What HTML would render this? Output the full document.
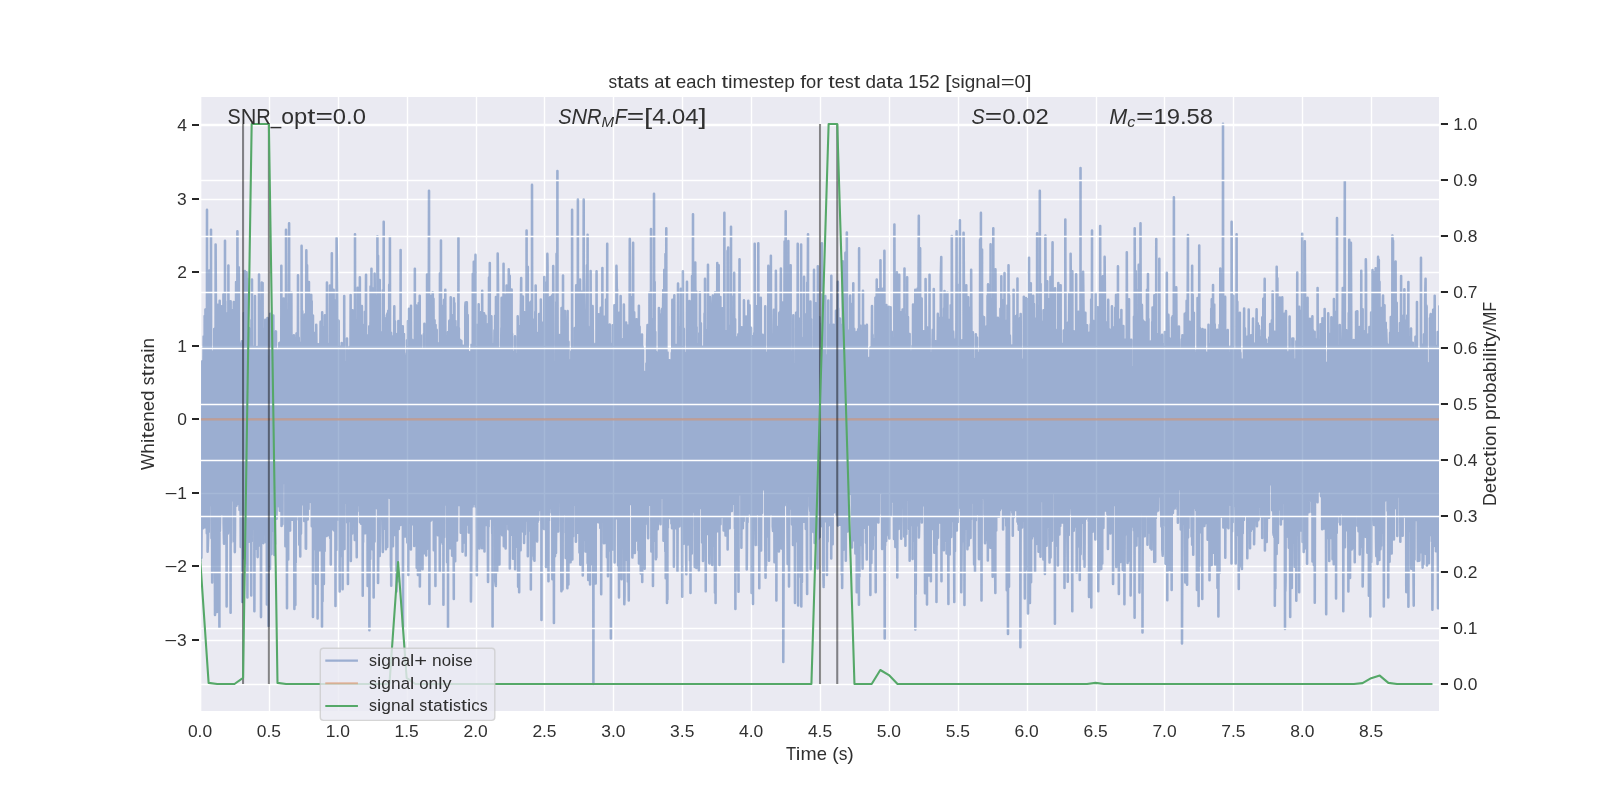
<!DOCTYPE html><html><head><meta charset="utf-8"><title>stats at each timestep</title><style>html,body{margin:0;padding:0;background:#fff;overflow:hidden}svg{display:block;will-change:transform}text{font-family:"Liberation Sans",sans-serif;fill:#303030}</style></head><body>
<svg width="1600" height="800" viewBox="0 0 1600 800">
<rect x="0" y="0" width="1600" height="800" fill="#fff"/>
<defs><clipPath id="c"><rect x="201" y="96" width="1238" height="616"/></clipPath></defs>
<rect x="201.2" y="97" width="1237.8" height="614" fill="#EAEAF2"/>
<path d="M200.5 96.0V712.0M269.5 96.0V712.0M338.5 96.0V712.0M407.5 96.0V712.0M476.5 96.0V712.0M544.5 96.0V712.0M613.5 96.0V712.0M682.5 96.0V712.0M751.5 96.0V712.0M820.5 96.0V712.0M889.5 96.0V712.0M958.5 96.0V712.0M1027.5 96.0V712.0M1096.5 96.0V712.0M1164.5 96.0V712.0M1233.5 96.0V712.0M1302.5 96.0V712.0M1371.5 96.0V712.0M200.0 640.5H1440.0M200.0 566.5H1440.0M200.0 493.5H1440.0M200.0 419.5H1440.0M200.0 346.5H1440.0M200.0 272.5H1440.0M200.0 199.5H1440.0M200.0 125.5H1440.0" stroke="#fff" stroke-width="1.389" fill="none"/>
<g clip-path="url(#c)"><path d="M200.00 428.2l.17-49.8 .03 182.5 .51-71.7 .13-93.2 .2-11.6 .34 173.3 .37-51.9 .23-144.3 .24 21.6 .1 143.2 .37-27 .07-119.4 .37 148.4 .23-152.7 .34-39.1 .17 134.4 .47-96.2 .07 151.4 .27-210 .2 183.8 .3 27.3 .27-217.6 .07 69.3 .1 98.9 .74 3.4 .06-94.2 .41 146.2 .17-323.3 .1 161.9 .13 102.5 .27-127.5 .1 205 .61-18.4 .23-166.3 .1-36 .17 201 .64-261.6 .14 227.4 .13-4 .1-147 .64 139.7 .14-121 .47 139.5 .03-275.3 .13 155.1 .31 124.7 .1 28.7 .33-183.6 .21-3.2 .1 230.9 .6-58.1 .1-162.7 .37 40.6 .04 145 .33-17.5 .21-151.8 .33 78 .07-126.8 .6 36.3 .07 205.3 .1 44.2 .1-277.6 .47 189.2 .04-282 .44 93.9 .2 173.7 .64-172.5 .1 272.4 .37-126.1 .13-152 .07 205 .23-234.2 .27 212.9 .14-162 .4-32.1 .14 167.4 .53-124 .14 260.5 .27-326.6 .17 230.3 .47-27.4 .17-137.5 .06-20.8 .24 126.6 .27 23.7 .13-124.7 .54-64.7 .1 174.2 .44 33.8 .07-124.2 .53-26.7 .1 115.1 .04 26.3 .44-210.6 .13 31.7 .07 198.2 .4 19.7 .14-208.8 .67 176.2 .13-270.4 .17 248.4 .14-187.8 .26 222 .04-161.6 .54 23.5 .33 143.8 .17 77.5 .14-224.1 .27 144.5 .23-213.6 .27 67.9 .37 152.2 .4-13.9 .07-254.1 .2 230.1 .24-104.6 .2-55.5 .27 193.6 .3-130.3 .07 122.9 .47-26.4 .3-120.7 .17 238.1 .03-311.3 .44 241.2 .17-214.8 .37 45.3 .34 111.7 .37-.3 .03-174.2 .24 53.6 .26 105.4 .44 30.9 .14-149.3 .33-48.9 .2 239.3 .11-33.1 .06-201.7 .61 33.1 .07 212.5 .2-24.6 .47-136.8 .37 63.9 .13-138.8 .1-33.7 .34 223.7 .34-22.2 .16-168 .11 170.3 .37-254.7 .43 160.1 .04 84.8 .33 27.7 .04-197.5 .4 170.6 .13-209.7 .37 229 .04-124 .33 137.8 .11-161.5 .43 138.5 .07-104.5 .61 164.4 .2-150.6 .27-52.9 .23 184.5 .24-46.2 .17-140.5 .37 260.8 .16-208.4 .27 91.8 .14-122.1 .57 186 .07-183.9 .47 123.8 .03-176.1 .14 203.8 .16-175.4 .34 216.9 .27-287.3 .24 202.4 .23-70.5 .24-100.5 .33 202.5 .24 10.9 .37-155.8 .1-87.8 .2 291.5 .34-285 .27 318.7 .3-238.5 .07 178.3 .33-49.4 .17-92.9 .64 144 .03-211 .27 213.6 .2-174.5 .21-17.7 .1 172.1 .54-148.4 .23 126.7 .24 15.5 .03-180.8 .47 261 .27-275.5 .2 221.4 .27-262 .03 66.8 .21 182.4 .57-168.9 .13 146.6 .17-120.6 .37 129.2 .47 5.6 .07-174 .23 2.8 .17 261.9 .31-124.7 .26-190.4 .17 181.6 .17-87 .27 158 .2-186.4 .47 17.9 .17 90.3 .27-98 .17 83.3 .17 25.1 .16-134 .48 210.2 .13-185 .44 1.8 .2 136.1 .44 35.4 .06-235.4 .1-35.5 .04 197.8 .57-160.6 .27 233.1 .44-242.7 .1 174.6 .17-131.3 .37 271.7 .1-42 .06-214.5 .64-78.1 .1 259.4 .31-63.3 .3-109.5 .1-86.1 .13 218.4 .61-172.7 .07 214.4 .3-194.1 .17 158.6 .3-23.6 .1-85.6 .54 72.6 .1-123.7 .17 157.5 .2-185 .67 58.1 .04 164.3 .03-195.7 .24 137.8 .3-102.8 .34 222.9 .3-106.9 .27-179.6 .2 152.5 .03-109.5 .58-4.5 .16 201.9 .14 67.6 .1-245.8 .44 99.5 .16-72.2 .27 1.1 .41 148.1 .03 12.4 .17-255.2 .6 191.4 .07-174 .3-2.8 .27 225.7 .31-43.2 .1-153.3 .2 122.4 .34-128.8 .3 1.2 .3 116.5 .24 61.9 .13-215.4 .3 70.6 .17 137.3 .41-162.4 .13 194 .54-74.8 .1-128.6 .07 192.5 .1-166 .4 105 .4-151.6 .07 28 .17 126.5 .34 32.8 .2-110.7 .4 72.7 .24-80.7 .23 93.7 .07-131.4 .77 20.9 .04 122.9 .06-156.1 .11 135.7 .43 2 .24-144.6 .44 30.2 .06 137.5 .31-168.3 .13 158.5 .27-.1 .27-132.7 .4 140.8 .14-243.3 .2 260.3 .17-140.4 .43-12.5 .24 151.2 .13-12.9 .37-101.2 .27 72.7 .34-101.5 .2-82.9 .17 162.2 .34-97.7 .03 97 .34 4.5 .03-102.6 .67 1.4 .14 183 .27-178.8 .3 99.3 .03-237 .44 255.5 .07-145.7 .47 268.7 .03-104.5 .47-114.1 .17 118.6 .2-155.9 .31 207 .16-248.8 .21 166.3 .06-130.7 .51-123 .23 247.4 .47-128 .1 165.4 .21 22.6 .03-163.1 .57 79.6 .14-99.2 .2 98.6 .33-153.8 .14 207.2 .23-125.2 .37 145 .17-174.7 .47 4 .07 168.2 .2-3.4 .24-140.9 .3 98.8 .3-136.3 .51 273.6 .07-250.9 .37-6 .1 152.3 .43 100.5 .04-242.1 .23-22 .1 221.7 .51-224.7 .07 181.9 .2-186.2 .43 179.3 .07-154.4 .27 123 .4 15.8 .31-221.9 .33 228.5 .17-142.3 .14 154.4 .13-178 .57 206.8 .04-201.9 .13 18.6 .34 147.4 .4 47.6 .17-209.5 .24 2.2 .3 184.7 .2-35.1 .2-95.3 .2 85.4 .04-242.9 .43 258.4 .24-192.9 .4 188.2 .04-130.1 .47-17.7 .2 119.9 .47 8.1 .07-129.4 .1-2.9 .23 173.4 .61-206.4 .13 202.1 .21-38.8 .2-138 .4 208.7 .14-175.2 .13 175.5 .27-298.4 .3 118 .2 129.2 .24-232.2 .37 223.8 .24 30.2 .1-133.1 .3-8.3 .07 88.1 .4 43 .4-227 .14 91.9 .23 108.8 .37-7 .1-169.8 .24 158.2 .17-133.6 .7 171.5 .04-153.7 .27-53.7 .27 188.4 .2-181.9 .13 225.1 .2-1.2 .44-205 .51-4.5 .03 301.5 .2-127.7 .27-155.8 .2 215.9 .2-210.4 .34-5 .1 137.5 .24-138.6 .03 147.1 .44 16.9 .3-109.5 .44-51 .07 172.3 .2 74.9 .2-259 .37 39.6 .03 151.7 .64 29.8 .24-148.9 .07-27.9 .03 249.6 .67-274.4 .04 189.9 .37-174.7 .23 135.7 .1-127.6 .14 107 .67 75.7 .13-199.1 .24 152.8 .1-151.3 .3-30.8 .24 168.8 .3-116.1 .24 147.3 .2-21 .23-151.6 .21 277.5 .16-314.3 .41 288.9 .06-245 .44-29.2 .41 204.2 .2-163.4 .17 216.1 .37-242.3 .2 159.5 .2 49.7 .27-235.5 .44 41.1 .1 150 .27-28.3 .26-114.7 .21 140.3 .2-131.1 .27 163.2 .3-253.3 .24 217 .26-155.7 .44 10.6 .1 160.2 .27-16.5 .04-131.4 .5 22.2 .17 146.3 .03-24.7 .41-163.3 .1 147.8 .43-209.5 .17 20.2 .07 232.3 .57-185.1 .03 211.4 .31-155.7 .1 105.8 .64-261.2 .17 258.5 .06-123.6 .2 110.2 .44-136.2 .17 143.2 .34-182.5 .03 206.6 .4-239.8 .1 206.3 .51 34.4 .23-225.4 .04 61.8 .03 136 .61-158.4 .33 261.6 .31-305.7 .17 219.6 .23-149.5 .14 179.7 .16-82.4 .1-229.7 .71 63.7 .14 170.7 .2 6.8 .13-94.7 .47 135 .07-167 .37-31.6 .03 182.3 .51-141.4 .23 151.5 .21 78.3 .16-236.1 .21 15.2 .1 123.6 .37 61.7 .13-168.5 .37-41 .07 196.5 .64-200 .13 143.1 .2 22 .14-124.6 .4 205.8 .04-242.5 .4 11.8 .37 119.6 .37-128.9 .07 98 .3 47.1 .07-198.3 .3 252.9 .03-187.1 .47 9.7 .21 126.5 .3-114.3 .47 119 .13-7.9 .17-129 .54 130.2 .13-157.5 .27 183.9 .07-153.8 .57-16 .07 231.2 .1-226.7 .03 145.9 .51 17.8 .27-156 .27-13.4 .27 136.1 .2-140.9 .37 154.1 .17-17.3 .27-96.4 .23-92.1 .2 265.9 .31-47.3 .1-182.1 .64 31.8 .1 124 .03-122.3 .2 168.5 .3-223.2 .41 144.2 .23 50.2 .21-173 .2 17.3 .1 151.4 .4 2.1 .2-168 .34 32.4 .2 173.1 .2-305.8 .27 240.6 .41-99.7 .2 96 .27-144.7 .23 181.8 .37 49.1 .07-237 .61 152.7 .06-87.5 .07 117.7 .17-215.4 .3 91.4 .37 125.7 .41-136.3 .03 120.5 .44-122 .2 144.2 .07-23.7 .3-210.2 .17 65.1 .03 179.8 .54-150.4 .33 127.1 .21-110.4 .03 135.2 .44-8.8 .27-209 .16 181.2 .37-162.5 .34 271 .1-226.1 .24 172.3 .27-169.3 .16-40.4 .04 156.2 .7 24.2 .14-171 .4 178.4 .04-208.3 .37 221.6 .03-129.1 .4 77.5 .31-191 .1-16 .27 244.6 .53-7.9 .14-176.1 .13 6.9 .34 163.3 .2 80.5 .27-232.3 .24 119.9 .3-106.9 .17-28.2 .3 208.3 .34-220.4 .13 303.9 .44-142.8 .13-140.8 .2 212.2 .31-236.7 .06 151.5 .04-187.1 .6 213.6 .27-231.5 .17 65.9 .14 142.9 .27 15.9 .2-176 .3-9 .13 241.1 .51-61 .27-200.2 .23 309.3 .07-295.1 .47 190.4 .07-136.4 .3 185 .04-268 .67 85.1 .13 109 .14-168.1 .03 159.1 .67-162.5 .14 206.4 .13-174.3 .37 180 .41-.1 .1-271.7 .2 263 .1-212 .3-31.6 .04 327.3 .5-79 .2-181.5 .41 224.8 .33-242.1 .2 250.7 .04-276 .6 219.9 .04-146.2 .23 110.6 .14-120.5 .37 153 .13-124.6 .41 128.4 .1-168.3 .4 62.2 .13 123.8 .54 33.6 .07-261.7 .47 10.3 .03 170 .31-248.8 .1 247.4 .2 26.9 .34-107.7 .16 75.5 .14-131.6 .54 196.8 .2-210.4 .2 53.5 .34 177.2 .37-215.8 .13 154.4 .27 40.4 .14-213 .43 231.6 .14-233.4 .13 170.8 .04-126.5 .43 116.9 .24-164 .44 60.5 .16 111.6 .37-198 .14 189.5 .17 23.5 .4-260.8 .14 97.3 .2 164 .43-129 .24 198 .1-234.5 .2 252.9 .31-212.3 .33 100.7 .24-17.9 .37-86.7 .06 29.4 .41 147.3 .2-71.7 .24-138.1 .26 185.3 .11-121.4 .53-93.9 .17 159.3 .47-144.5 .04 213.7 .3-41.5 .1-133.4 .37 164.5 .2-184.6 .41-5.1 .13 256.7 .13-221.7 .04 135.6 .5-121.1 .34 197.2 .2-247.8 .07 186.2 .6-198.9 .07 198.4 .14-160.9 .26 170.6 .58-203.7 .06 160.8 .1 2.1 .21-138.5 .43 6.7 .27 168.5 .14-275 .03 226.9 .54 44.3 .17-137.7 .2-11 .2 116.2 .44-108.4 .2 96.8 .37-150.8 .1 198.2 .14 102.2 .06-240.7 .81 95.3 .07-147.3 .27 192.3 .1-173 .33 24 .27 159.3 .31-11.6 .1-169.2 .47 17.5 .13 142.8 .14-31.1 .4-118 .1 6.2 .03 110.7 .44-143.7 .27 202.4 .44-4.9 .2-216.7 .34 253.9 .06-204.8 .41 120.9 .2-182.1 .34 190.9 .13-131.5 .24 151 .13-152.7 .3 122.6 .1-124.7 .51-44.2 .2 229.3 .1-243.8 .47 171.2 .2-137.4 .14 134.7 .34 24.7 .26-157.7 .27 36 .21 115.2 .37 32.1 .06-114.1 .47 61.9 .14-132 .27 205.7 .17-206.2 .2 191.4 .27-262.5 .16 238.7 .07-130.8 .44 108.7 .44-170.8 .3-9.1 .13 183.7 .31-108 .03 186.6 .61-237.7 .06 166.7 .37-173.4 .17 251.7 .24-114.1 .16-105.9 .37-52.1 .24 212.8 .1-186.7 .17 173.8 .5-207.2 .14 290.9 .5-69.3 .04-114.7 .27 149.2 .26-216.3 .07 39 .41 161.8 .3-177.5 .27 127.2 .43 59.6 .04-191.4 .1 215.1 .1-184.8 .4-34.7 .04 161.8 .64-19.7 .06-157.5 .47 187.9 .14-198.5 .13 229.5 .27-157.6 .21-7.4 .2 139 .43-172.7 .11 121.8 .47 79.2 .23-178.4 .3-18.6 .04 190.7 .27-274.8 .37 201.6 .33 50.5 .21-185.9 .16 196.8 .17-213.6 .24 204.7 .13-176.7 .34-161.1 .4 413.1 .2-254.7 .07 131.1 .54-103 .2 143.8 .2-1.3 .07-223.8 .47 172.5 .34-139.2 .2 190.3 .13-183.5 .21 147.1 .16-184.9 .58-5.9 .2 209.9 .27 10.2 .23-213.8 .27 54.9 .07 196.6 .3-184.6 .34 124.1 .1-169.4 .4 180.6 .07-133 .4 218.2 .14-261 .03 172.2 .57-109.2 .27 72.1 .24-130.3 .03 172.3 .37-149.3 .37 140.2 .07-104.6 .47 146.7 .27-65.9 .23-125.8 .24 39.2 .2 81.8 .17 58 .07-174.6 .64 223.5 .13-298 .1 78 .37 169.4 .47 21.2 .07-301.4 .07 133.9 .16 129.5 .64-44.6 .04-153.7 .2 35.6 .2 169 .34-125.6 .23 159.4 .44-231.9 .17 292.5 .13-78.7 .37-215.9 .1-10.4 .17 237.5 .41-162.1 .27 129.5 .16-4 .24-210.8 .34 194.3 .26-100.2 .17-19.5 .37 133.5 .14-157.7 .1 141 .33-123.9 .14 205 .57-58.4 .24-171.9 .06 295.4 .07-269.9 .54 156.3 .23-146.1 .44-46.8 .07 161.4 .34 35.6 .13-153.4 .3 25 .07 158.7 .5-251 .07 184.2 .57 33.5 .1-168.4 .07 191 .47-222.3 .17 240.5 .2-181.7 .24 170.4 .17-191.5 .5-17.6 .24 136.1 .3 127.5 .07-300.5 .27 205.3 .33-200.5 .27 166.2 .1-107.9 .34 199.7 .23-240.2 .51 205.3 .03-134.5 .44 25.4 .1 70.4 .37-141.3 .1 194.2 .24-41.1 .16-172.2 .17 29.5 .14 128 .5 3.7 .27-250.5 .17 267.1 .2-176.9 .24 171.5 .4-116.9 .07 77.4 .43-108.1 .34 134.3 .03-146.2 .41 25 .07 167.6 .43-43.1 .14-148.6 .23 130.9 .21-104.1 .23 161.7 .27-153.7 .24 176 .13-186 .4-20 .31 162.7 .16-128 .07 136.3 .74 25.6 .07-183 .17 122.6 .23-135.5 .27 109.3 .2-149.5 .27-3.7 .14 252.9 .33-199 .37 102.8 .21 2.3 .2-159.2 .4 35.2 .07 186.9 .4-209.5 .27 175.4 .17-105.2 .23 134.8 .27-156.9 .1 169.3 .48-180 .1 122.9 .43 13.6 .07-132.4 .2 127.1 .27-117.2 .41-7.9 .26 242.9 .41-54.3 .03-177.9 .14-24.4 .4 155.8 .1-145.6 .17 123.1 .44 28.5 .16-232.8 .41 39.8 .1 170.2 .47-222 .13 232 .17-154.1 .41 164 .1-6.5 .1-181.3 .47 172.5 .34-233.5 .06 251.6 .41-135.1 .2-41.9 .13 169.6 .2-129.2 .34 205.4 .34-62.5 .17-188.1 .2 30.9 .4 142.3 .14-125.3 .1 146.8 .47-215.1 .07 159 .67-81.4 .03 166.7 .14-31.6 .23-190.1 .54-12.9 .1 204 .1-180.2 .41 123.4 .2-149.1 .23 192.6 .17-157.9 .03 182.9 .51 18.5 .1-257.4 .4 178.4 .14-150.6 .54 27.8 .13 182.3 .27-196.9 .13 211.7 .24-230.2 .44 238.1 .06-234.2 .24 178.6 .24-129.3 .16 114.5 .37-165.2 .34 209.3 .3-50.3 .14-88.7 .23 92.5 .31-102.4 .33 79.4 .27-131.1 .17 28 .17 179.3 .23 50.2 .44-250.6 .13 195.2 .04-139.5 .37-109.5 .13 228.8 .64-243.4 .1 215.6 .27 39.8 .2-157.2 .21 6.9 .23 122.1 .44-9.1 .13-164.9 .51 62.2 .1 124 .27 31 .03-189.4 .3 282.7 .07-277.4 .54 114.5 .23-117.9 .21 178.3 .06-169.2 .44 119.5 .14-123.1 .23-21.1 .03 159.6 .61-174.1 .07 265.1 .6 5 .14-288.8 .3 38.2 .24 146.3 .13-97.1 .24 108.6 .2-171.5 .13 250.3 .47-68.6 .04-249.7 .37 38.7 .13 191.6 .34-135.8 .23 193.4 .41-172.3 .23 195.2 .31-86.2 .23-99.5 .27-5.1 .07 95.6 .27 47.9 .03-133.5 .81-55.8 .03 106 .17-135.9 .07 236 .37-172 .2 173.4 .27-180.4 .2 140.4 .4 17.4 .31-167.2 .13-81.7 .27 282.5 .27-58.1 .27-132.2 .23-60.6 .04 191.1 .53-95.2 .31 107.3 .17 49.8 .03-217 .54-3.3 .03 193.3 .34-235.9 .23 226.3 .31 11.6 .06-193.1 .47 172.2 .14-174.1 .3-18 .27 218.8 .2-37.2 .2-222.6 .37 28.4 .27 193.5 .34-215.4 .1 292.5 .17-243.1 .13 135.1 .57-107 .21 160.2 .2-28.9 .13-84.2 .37-111 .2 245.3 .24-200.9 .24 149.8 .23-106 .37 101.5 .14 79.5 .1-206.6 .4 145.1 .44-135.7 .33 127.1 .14-135.9 .17 153.4 .37-169.7 .1 232.8 .4-193.5 .24 143.2 .03-126.3 .4-16.8 .21 166.7 .2-188.5 .27 145.4 .33-136.3 .27 184 .27-230.7 .27 192.9 .17 77.4 .23-240.1 .21 166.1 .27-143.4 .3 222.9 .1-265.6 .34 38 .03 122.2 .6-116.5 .14 110.6 .23 69.3 .07-226.9 .51-45.2 .23 196.8 .3 26.4 .17-199.9 .24 38.2 .13 154.6 .64-197.6 .07 234.9 .3-52.1 .24-115.1 .06 166.4 .07-140.6 .44 152.8 .37-230.7 .23 62.7 .24 159.4 .4-26.1 .1-191.5 .14 179.4 .44-136.8 .23 19.3 .2 87.3 .17-235.4 .2 244.4 .51 45.5 .03-187.3 .44-66.4 .07 289.5 .23-66.7 .24-131.8 .2-55.4 .47 228.3 .44-223 .03 183.9 .2-172.5 .2 186.4 .51-16.1 .07-102.4 .27-46.1 .16 248.6 .24-287.9 .07 254.7 .67-215 .13 156.9 .04-313.2 .4 313.6 .3-179.1 .24 175.9 .37-3.3 .13-127.8 .34 195.3 .03-176.6 .37-29.8 .27 207.6 .41-69.6 .03-135 .4-44.4 .11 183.3 .13-6.2 .13-203.2 .54 84 .1 80.4 .41-117.3 .06 192.3 .37 16.4 .24-200.6 .24 181.1 .2-180.5 .37 12.6 .13 166 .27-180.7 .2 171.4 .31-9.6 .03-187 .5 174.3 .1-139.4 .61-10 .07 163.7 .23 5.4 .17-208.5 .37 47.9 .3 272.6 .07-249.5 .27 129.1 .47-27.5 .1-141.2 .37-8.2 .04 177.2 .26-146 .21 160.7 .23-177.3 .17 190.6 .57 1 .04-252 .37 71.5 .16 157.3 .34-153.4 .07 129.8 .43 33.8 .07-232.9 .34 284 .33-192.6 .24 101.3 .03-174.8 .44 212.7 .24-259.8 .2 12.7 .03 206.5 .67-103.1 .21 211.2 .2-199 .23 138.6 .58-170.3 .03 118.4 .07 43.7 .27-143.6 .23-71.8 .2 210.7 .64-8.6 .07-132.9 .27 109.6 .07-125.3 .2 32.1 .2 118.5 .3-205.8 .37 283.7 .27-217.2 .07 147.7 .4 0 .07-243.7 .44 78.6 .27 278.4 .13-95 .3-161.7 .41 2.8 .23 187.2 .2-31.1 .17-162.8 .27 5.2 .34 185.5 .2-29.6 .13-221.5 .24 199 .07-247.3 .54 275.7 .26-358.4 .11 126.8 .47 177.3 .06-138.3 .21 194.7 .26-64.7 .04-110.2 .67 31.9 .17 89.3 .3-142.7 .24 144.5 .3-143.6 .13 152.1 .24-125.3 .37 148 .44 80.5 .06-252.6 .07-30.7 .37 156.8 .37-116.7 .2 241.3 .17-31.2 .27-200.5 .1-82.2 .3 229.5 .48-148.9 .2 130.5 .2 25.3 .03-153.4 .41 155.2 .2-202.7 .5 26.8 .14 195 .13-205.8 .1 231 .44-52.2 .1-145.3 .37-38.6 .14 208.4 .33-182.4 .27 240.3 .24-277.1 .33 241.6 .47 31.7 .07-242.5 .04 163.2 .06-110.1 .71 80 .1-108 .17-6.7 .23 197.3 .51-102.8 .2-72.3 .07 179.7 .03-200.4 .57 153.8 .17-164.1 .37 4.4 .24 203.1 .16-349.1 .24 349.5 .2-199.1 .41 153 .16 22.9 .14-160.9 .4 14.9 .07 100.8 .44-122.7 .13 126.4 .54-166.7 .03 176.7 .34-155.5 .23 151.1 .37-106.3 .11 147.8 .26-42 .04-214.4 .37 107.6 .33 111.7 .27-155.5 .31 183.5 .4-333.1 .07 293.3 .06-134.7 .44 137.4 .07-61.6 .27-61 .37 110 .17-107.6 .16 177.1 .48-231.6 .06-41.3 .27 285.1 .24-267.2 .27 189.2 .4-132.1 .24 151.7 .2-214.4 .23 250.5 .27-204.6 .24 205 .23-241.2 .14 274 .3-215 .07 126.1 .57-287.1 .17 276.1 .13 63.9 .27-152.7 .37-18.7 .17 163.2 .54-219 .13 239 .07-53.4 .3-135.7 .3 129.3 .04-169.2 .74-57.1 .03 244 .1-227.6 .21 212.4 .33-259.2 .04 328.3 .47-236.5 .13 253.4 .37-55.8 .14-170.9 .26-15.1 .04 152.2 .64 43.4 .06-182.1 .31 232.7 .33-231 .14 152.4 .1-234.8 .6 247.8 .21-166.7 .06-29.4 .27 195.7 .64-206.7 .04 212 .1 40.7 .03-258.4 .54 72.7 .27 305.2 .13-168.2 .1-147.7 .51 22.8 .3 103.5 .1-104.5 .07 96.9 .54 21.7 .23-164.6 .3 239.7 .31-204.4 .3 105.5 .17-147.2 .1-66.3 .4 234.6 .1-2.5 .04-170.1 .57 17.3 .1 157.9 .44 13.8 .2-162.8 .27-45.2 .07 206.2 .37-183.2 .2 172.3 .5-8.3 .17-121.7 .34 148.6 .16-182.8 .31-37.6 .1 165.3 .23-111.6 .07 232.9 .61-245.9 .1 109.6 .1 23.5 .37-213.5 .2 248.1 .03-145.1 .61 2.1 .07 148.2 .57-188.8 .1 210.7 .17-59.8 .03-166.7 .64 185.4 .14-122.3 .23 131.9 .1-139 .41 2.6 .03 142.1 .34-217.9 .3 244 .44-149.5 .16 163.2 .27-313.5 .04 250.2 .3-165.3 .4 247.6 .14-179.9 .37 120.1 .33 22.1 .07-206.2 .17 3.3 .27 177.9 .4-188.9 .1 225.8 .27-167 .3 125.5 .14-165 .37 294.5 .3-268.3 .3 137 .14-29.8 .34-94.9 .37 113.2 .13-120.5 .17-49.8 .07 170.1 .4-146.5 .1 200.5 .37-157.4 .4 135.7 .14-35.5 .23-186.8 .24 257 .37-216.2 .1-25.3 .37 192.9 .13-33.1 .17-142.1 .34 179.6 .37-252.3 .37 23.3 .1 217.1 .1-217.1 .2 220.2 .47-160.1 .1 112.2 .41 104.1 .1-230.2 .3-12.2 .37 245.3 .07 28.9 .17-233.8 .3-51.1 .34 151 .37 50.2 .27-149.7 .16-68 .1 210.9 .51-9.6 .23-150.8 .04-1.8 .07 234.5 .67-177.6 .13 64.3 .21-94.5 .13 103.8 .4-136.2 .34 158.9 .34 45.9 .06-239.3 .27 41 .17 258.8 .24-9.3 .03-240 .44 163.4 .33-167.8 .27-18.3 .14 159.9 .33-169.6 .07 198.4 .4-133.4 .37 172.5 .24-196.7 .13 127 .51 91 .1-255.5 .1-.3 .07 158.3 .7 116.6 .11-234.1 .4 121.5 .2-103.8 .3-145.2 .07 257 .51-191.2 .06 199.4 .24-189.1 .3 187.5 .2-145.1 .07 138.4 .3-7.9 .1-115 .37-75.9 .37 260.6 .41-15.5 .06-264.7 .27-34.7 .31 222.8 .1-94.7 .3 122.4 .3-18.8 .07-162 .4 58.8 .24 181.7 .47-178.4 .07 143.1 .54 23.1 .06-186.1 .24 0 .27 122.3 .06-157.7 .24 193.1 .44-43 .2-122.3 .34 10.2 .2 105.8 .27-97.7 .13 184.9 .51-244.4 .1 257.7 .2-23.4 .17-193.8 .23-19.6 .34 177.8 .33-133.2 .11 143.1 .2-124.7 .2 183.9 .4-221.3 .04 175.2 .54-41.6 .13-129.4 .13-21.9 .24 247.4 .27-235.5 .47 147.5 .03-144.3 .17 165.6 .54-51.7 .17-83.8 .44-7.8 .1 165.5 .23 31.2 .34-194.7 .27 150.3 .17-142 .26 109.5 .07-106.9 .61 115.6 .03-137 .3 14.9 .24 87.3 .07 41.9 .03-160.7 .47-21.8 .3 195.4 .31 17.8 .33-169.4 .2-6 .21 101.9 .5 30.4 .1-202.5 .34 197.5 .03-141.1 .44 3.2 .1 152.5 .57-2.4 .04-273.4 .26 134 .11 188.4 .23-216.4 .24 172.4 .37-20.1 .13-93.4 .24 12.7 .4 179.3 .13-88.2 .21-178.6 .43 34.4 .14 158.6 .13-318.3 .44 327.9 .2-239.6 .07 258.6 .57-208.7 .1 182.8 .2-141.3 .27 185.7 .17-198.4 .34 196.6 .23-204.8 .07 160 .34-154.2 .43 137.6 .17-118.8 .1 152 .58-29.2 .16-145.1 .07 151.9 .4-198.8 .21 180.2 .06-144.1 .37 154.3 .21-125.3 .23 28.4 .17 108.2 .34 14.5 .47-154.6 .06 120.7 .27-176 .44 183.2 .03-187.3 .37 175.3 .04-176.6 .4 188.8 .14-162 .57-45.7 .2 250.8 .23-67.4 .14-176.8 .13 219.2 .27-246 .31 212.7 .16-147.8 .58 216.8 .16-297.4 .17 51.5 .07 272.7 .57-350 .2 285.1 .44-145.8 .07 235.5 .17-230.6 .23 226.9 .1-246.9 .34 175.2 .57-149.8 .03 100.9 .07-81.1 .07 88.4 .5-15 .41-110.7 .27 157.6 .2-132.2 .27 119.4 .23-97.3 .27-33.6 .14 115.4 .33-128 .2 161.8 .17-20.4 .2-150.2 .27 175.4 .31-228.4 .23 3.4 .1 178.3 .47 21.9 .14-137.1 .27-59.3 .33 259.7 .44-271.4 .1 230.4 .2-29.5 .27-144.3 .54-7.2 .03 169.8 .34-144.8 .1 138.5 .44 20.1 .13-153.7 .31 97.3 .03-95.7 .34-1.5 .3 196.4 .17-43.2 .03-159.7 .37-84.7 .44 243.1 .07-55.9 .43-135.1 .24 15.9 .2 174.6 .1-199.1 .03 187.6 .51-168.8 .1 170.6 .71-227.6 .03 219.4 .3-182.1 .14 154.6 .5-110.7 .1 121.9 .31 104.7 .13-289.3 .27 212.1 .23-248.1 .51 190.2 .1-125.5 .24 207.6 .1-214.8 .2 66.7 .07 106 .63-16.6 .04-112.6 .44-2 .13 151.6 .24-142.1 .33 136.8 .41 57.6 .03-221.5 .44 107.9 .2-178.9 .3 84.6 .14 125.4 .2-174.1 .03 226.8 .4-173.5 .04 140.1 .67-139.7 .07 115.1 .33 38.4 .21-159 .13-64.8 .03 183 .51 76.7 .3-231.5 .17 263.6 .03-246.3 .47 187.6 .41-195.3 .2-15.7 .17 230.3 .3-277.5 .1 223.9 .44 8.5 .37-294.1 .1 129.6 .3 142.8 .27-147.5 .04 172.4 .33-27.8 .04-189.8 .67 273.1 .03-175.2 .44 108.7 .03-238 .31 93.1 .1 146 .54-210.1 .2 276.5 .2-240.8 .1 205.7 .57-149.2 .14 115.5 .37 4.7 .1-159.7 .57 141.1 .03-110.5 .2 22.3 .17 173.2 .44-237.1 .2 145.5 .14 5.1 .23-191.6 .34 209.4 .13-126.7 .17 114.3 .37-166 .2 184.6 .34-145.6 .13 117.7 .41-128.3 .2 190.8 .2-195.7 .44 12.5 .07 139.6 .16 62.2 .41-178.3 .2 145.2 .23-180 .31 159.1 .06-139.9 .34-53.7 .34 184.7 .1-219.4 .4 206.2 .34 106.2 .13-253.9 .24 143.6 .33-150 .34 68.2 .2 100.8 .07-122.7 .07 134.9 .54 21.8 .3-269.2 .27 216.8 .23-139.1 .07 167.2 .07-176.2 .4 11.7 .24 217.8 .3 .6 .44-266.5 .16 46.5 .14 131.9 .34-132.1 .2 136.4 .23-82.2 .2 72.3 .27-102.7 .07 146.9 .67 50.9 .21-259.1 .37-10.3 .1 250 .37-63.6 .06-154.8 .41 48.8 .03 130.3 .24-2.8 .1-153.9 .6 9.6 .21 233.6 .23-300.4 .14 246.6 .26 64.2 .24-236.3 .34 154.5 .16-158.2 .31 15.2 .27 123.5 .1 7.4 .23-246.1 .41 94.3 .16 173.8 .37-184.3 .17 147.1 .31-228.7 .23 238.2 .51-12.6 .06-119.7 .04 193.7 .1-230.7 .77-37.2 .1 227.3 .1-166.1 .14 116.3 .3-145.7 .1 188.3 .61-28.5 .06-144.4 .41 127 .2-163 .1 20.1 .17 152.4 .4-130.3 .24 121.5 .37 58.5 .3-149.2 .07 87.1 .33-255.4 .17 158.2 .24 131.6 .33-154.9 .27 123.9 .17 63.8 .03-170.3 .64-29.6 .14 147.1 .33 10.1 .07-161.7 .24 19.3 .43 155.9 .11-255.4 .1 298.5 .53-301.9 .14 263.7 .3-9.5 .2-168 .44-7.9 .17 132.8 .23 69.7 .14-185.3 .3 20 .1 127.2 .47-6.3 .24-129.7 .1-127.4 .03 284.2 .54-124.6 .24 124.6 .33-30 .14-86.9 .23-19.7 .44 107.7 .17-11.2 .27-81.4 .23-93.1 .34 178.1 .1 29.3 .1-231.1 .78 255.8 .03-205.8 .13-3.5 .27 289.8 .21-238.1 .16 181.7 .41-208.9 .2 140.3 .4-119.2 .24 160.3 .23-10.4 .21-177.4 .13 232 .2-196.6 .27 114.6 .3-152.9 .17 257.4 .04-227.3 .6 128 .27-162.6 .1-70.6 .34 222.9 .2-116.9 .4 129 .44-18.4 .03-121.6 .37-17.1 .1 210.6 .31-220.6 .06 149.1 .58 5.6 .06-95.7 .21-47.6 .23 189.7 .2-56.8 .37-89.3 .24 138.9 .3-220.8 .44 48 .07 124.6 .3 22.6 .2-115.8 .37 112.8 .03-114.2 .14 137.1 .44-124 .13-74.8 .1 182.8 .4-151.3 .17 221.4 .47-74.5 .1-133.4 .21 160.7 .27-167.3 .47 98.2 .03-152.4 .51 46.1 .06 131.4 .14-137.7 .4 172.6 .14-207.8 .43 166.3 .14 38.2 .1-131.9 .67 137.7 .1-187.8 .17 156.9 .24-94.7 .23 202.8 .3-249.4 .14 12.4 .1 159 .37-143 .37 119.9 .1 112.2 .03-268 .51 154.2 .07-123.3 .53 158.7 .04-192.4 .4 194.4 .1-283.8 .34 100.3 .03 133 .67 67.8 .14-206.1 .23-32.7 .21 208.1 .23-131.1 .34 96.8 .33 12.1 .11-101.1 .4 79.3 .23-94.4 .31 124.9 .03-257.5 .54 302.4 .13-195.4 .07-45.7 .24 283.7 .5-218.7 .17 146.2 .13-8.8 .17-134.7 .41 94.3 .13-168.7 .3 252.8 .1-190.8 .44-21.5 .37 174.8 .07-176.2 .44 119.1 .16-121.3 .04 153.9 .37-8.5 .23-134.9 .37 124 .14-104.5 .23 15.9 .31 108.9 .26-118.9 .21 114.3 .4-178.5 .03 239.5 .31 31.9 .4-220.4 .14 208 .4-187 .07 106.8 .1-132.1 .77 9.4 .03 120.5 .11-98.5 .2 122.7 .43 29.3 .11-270.6 .3 240.4 .03-161.7 .37 216.1 .07-212 .74 11.6 .07 151.6 .3 2.5 .07-199.5 .43 151 .17-210.2 .44 243.4 .07-126.4 .16-24.1 .27 151.9 .37 12.4 .27-168.1 .14 2.5 .13 179 .37 4.7 .14-166.7 .64-54.4 .03 178.7 .17-135.6 .4 209.3 .14-200.9 .13 169.8 .57-164.2 .07 145.5 .17-20.3 .33-221.4 .37 78.8 .14 250.8 .33-258.8 .11 150.1 .43-103.8 .17 155.1 .1-67.8 .34-73 .4 1.9 .2 105 .07-182.3 .37 224.7 .34-45.3 .03-193.3 .4 184.8 .24-155.9 .3 116.5 .07-105 .57-84.7 .04 263 .47 16.9 .1-219 .23 52.7 .24 102.1 .13 27.9 .41-148.3 .03-61.3 .24 158.7 .33-154.2 .2 354.8 .41-130.9 .13-173.8 .54 136.4 .03-180.1 .24-71.9 .07 263.5 .43-18.9 .14-155.3 .44-119.5 .06 276.5 .47-148.3 .24 137.3 .3-172.7 .17 194.9 .2-168.6 .17 172.8 .37 60.6 .3-212 .1 141 .24-251.9 .2 297.4 .27-203.7 .2 251.7 .41-173.7 .2-69.6 .37 121.2 .07-192.5 .23 232.1 .37-238.6 .03 201.5 .71 41.6 .03-98.1 .17-39.5 .27 107 .2 46.8 .17-172.5 .51 29.1 .23 142.5 .04 21.4 .3-229.7 .37 180.5 .1-100.5 .4 108.9 .1-138.4 .27-1.3 .44 238.5 .03-236.2 .07 144.2 .47-135.9 .17 166.2 .37-228.6 .24 204.4 .2-150.8 .23 112.9 .27-85 .3 117.5 .37-268 .24 277.8 .2 84 .07-238 .3 116.3 .17-155.4 .44 136.8 .37-82.5 .27-21.8 .2 198.9 .07-241.3 .13 219.1 .71 39.6 .1-181.5 .13-151.2 .2 361.9 .54-189.9 .07 165.3 .34-242.4 .1 147.6 .3 25.1 .27-155.2 .13 23.7 .07 103.2 .57-146.4 .2 184.2 .14-244.8 .17 237.4 .5-180 .2 142.9 .21-163 .16 161 .37-132 .17 185.7 .3-196.5 .24 168.1 .3-147.4 .2 192.3 .27 48.5 .07-311.2 .44 205.5 .13-203 .24-51 .03 261.3 .78-107.7 .03 97.4 .2-8.5 .03-156.4 .64 45.3 .04 140 .5 5.6 .17-209.7 .27 267.7 .23-205.8 .11 137.6 .06-181.7 .57 205.2 .27-115.2 .31-38.3 .06 156.1 .34-33.5 .1-143.2 .54 181.7 .17-144.6 .17 97.2 .37-214.8 .13 77.3 .3 158.8 .2-148.1 .04 185.1 .6-69 .04-116 .3 136.3 .24-191.1 .3 35.3 .07 203.4 .3-152.8 .47 99.4 .1-6.3 .37-144.5 .07 230.8 .33-302.3 .51 55.7 .07 216.8 .4-14.5 .1-160.9 .13-46.2 .27 164.9 .44 55 .03-213.1 .21 58.8 .3 130.3 .4-172.2 .17 185.4 .17-34 .3-156.1 .34 150.2 .17-243.1 .17 252.5 .06-175.7 .61 45 .17 116.5 .13-146.5 .17 230.4 .47 21.5 .03-281.6 .51 193.6 .03-165.5 .34 59.8 .23 120.2 .44-29.8 .03-187.6 .51 174.2 .07-94.2 .2 145.5 .27-165.3 .6 3.4 .04 215.4 .2-205.3 .33 117.8 .11 53.9 .4-186.7 .17 171.4 .13-225.5 .51 212.8 .13-144.8 .24 43.1 .23 112.3 .34-138.5 .03 125.1 .51 14.2 .16-200.1 .07 143 .37-122.3 .37 213 .07-282.7 .3 205.7 .3-145.6 .37 163.6 .21-116.5 .16 161.3 .07-172 .3-9.3 .07 150.4 .47-188.5 .24 163.1 .5-124.8 .1 149 .1-154.1 .27 126.4 .51 13.1 .07-109.1 .3 108.8 .3-186.4 .51 56.5 .03 112 .1 36 .3-150.2 .17 122.3 .3-122 .44-83.7 .14 243.8 .06-37.6 .14-179.5 .44 185.9 .03-121.1 .57 111.9 .27-159 .13 189.4 .31-196.9 .17 206.2 .37-168.2 .4 117.7 .07-86.3 .3-34 .13 167.8 .17-197.1 .34 250.1 .2-205.9 .1 219.1 .51-94.1 .13-232.7 .34 85.3 .3 203.2 .44-77.1 .03-114.4 .1-85.6 .34 257.2 .17-27.3 .3-136.3 .23 126.1 .37-239.4 .41 307.9 .06-200.2 .41 154.1 .03-145.2 .47 109.3 .04-246.3 .3 267.4 .34-155.6 .23 187.2 .07-201 .4 17 .04 154.7 .5-26.9 .17-108 .33 1.4 .14 121.3 .57 3.5 .07-195.2 .17-2.8 .03 192.2 .4-116.7 .34 123.1 .34-25.7 .03-164.7 .24 45.5 .43 198.3 .31-79.8 .2-82.3 .3-76.9 .2 217.4 .3-242.7 .07 207.6 .41 49.4 .16-198.3 .24 162.3 .07-175.3 .5 157.2 .17-117.9 .34 7.2 .13 178.1 .3-181.5 .27 98.5 .1 33.6 .14-170.6 .47-1.4 .1 260.1 .27-249.1 .44 174.2 .06-175 .24 121.3 .4-134.2 .2 210.6 .24-169.5 .34 234.2 .16-356.3 .24 328.3 .3-50.7 .34-175.3 .2 177.4 .14-202.6 .43 55 .14 164.4 .27-18.9 .1-182.5 .27 169.5 .23-164.2 .41 28.6 .13 156.3 .3 35 .37-278 .14 71.7 .2 132.2 .23-142.2 .11 109.6 .53-94.7 .1 151.6 .27-193 .17 201.8 .47-48.9 .24-124.5 .1 .4 .4 188.1 .34-177.8 .17 148.6 .33 45.9 .1-234.6 .17 142.4 .34-99.4 .2 28.6 .34 99.3 .13 26.1 .3-136.1 .24 138.7 .34-138.9 .27 82.8 .2-110.7 .13 142 .3-102.9 .54 198.1 .04-234.6 .13-12.9 .07 160.7 .5-126.5 .24 181.5 .27-75.3 .06-129.2 .34-52.5 .34 193.5 .23-164.7 .1 214.1 .71-177.1 .03 163.1 .37-61.1 .1-133.7 .21 29.9 .17 137 .37-167.7 .33 167.4 .37-40.4 .07-168.7 .27 294.6 .27-246.7 .06 33.4 .27 143.6 .44-243.1 .27 220.5 .24-6.7 .16-100.1 .44 86.6 .07-142.5 .37 7.3 .13 177.9 .1-233.2 .24 226.3 .5-2.2 .14-157.8 .23 138.1 .21-136.1 .23 135 .4-232.3 .34 105.2 .14 118.5 .37-21.2 .13-141.5 .2 172.3 .34-136.2 .17 191.5 .06-196.9 .41 181.6 .13-244.8 .47 17.6 .07 173.7 .37-152.4 .34 150.2 .4-227.2 .03 219.9 .27 167.8 .27-280 .1 187 .17-205.4 .27 149.4 .24-126.4 .43 177.9 .2-235.8 .24 23 .03 207.7 .74-17.7 .04-168.6 .37-29.6 .1 185.4 .33 6.9 .24-182.1 .1 147.2 .34-170.5 .27 71.7 .13 159.9 .27-221.2 .37 193.6 .07-9.8 .13-138.1 .41-55.7 .43 208 .31-126 .13 112.8 .3-170.2 .14 127.6 .17 23.5 .3-111 .2-30.5 .34 157.1 .17-160.3 .13 153.2 .4-101.9 .41 149.5 .2-27.1 .2-287.3 .37 163 .07 112.7 .54 46.8 .1-172.3 .2 140.6 .2-110.1 .44-33.6 .17 122.2 .03 39.6 .4-261.1 .1 124.8 .27 180.4 .34-208 .24 126.9 .33 .4 .1-135.3 .34 167.3 .03-172.9 .57-81.2 .07 236.4 .24-190.6 .4 202.6 .2-8 .14-153.4 .33-3.7 .24 156.2 .2-201.9 .17 226.3 .44-39.4 .33-150.7 .04-16.6 .1 150.6 .47-173.1 .2 171.7 .47-76.1 .17 77.2 .34-8.1 .1-125.7 .3 188.1 .3-268.1 .04 80.5 .1 106 .4-140.2 .4 230.9 .27-230.8 .14 175.4 .4-122.1 .1 165.9 .44-219 .2 184.6 .17-222.5 .27 219.7 .4 0 .14-179.9 .2 82.1 .17 95.4 .27-13.2 .37-139.5 .1 187.1 .1-166.7 .43-28.2 .07 226.8 .74-201.1 .04 129 .27 6.8 .23-138.3 .1 110.5 .34-103.7 .2-12.5 .1 173.4 .4-33.9 .31-144.9 .2 212.9 .2-177.8 .27-76.7 .1 227.7 .44-52 .1-123.9 .3-14.3 .34 198.5 .3-174.3 .24 136.2 .37-212.5 .06 339.7 .27-292.2 .14 256.7 .33-69.5 .24-170.3 .5-.4 .07 162.5 .34-16.8 .27-198 .16-13.1 .24 229.3 .2 7.4 .07-150.1 .67-159.3 .1 321.7 .24-11.3 .23-167.1 .24-69.7 .3 212.1 .2-253.2 .27 246.8 .17-151.6 .3 139.7 .27-147.4 .07 182.9 .47-220.1 .17 223.9 .17-37.9 .06-117.6 .71-11 .14 111 .43-92.3 .07 130.6 .13-174.1 .11 140.9 .37-127.9 .43 146.7 .31-153.4 .13 136.6 .1 119.2 .1-226.6 .41 124.6 .06-212.3 .84 114.8 .04 114.1 .27-170.2 .27 266.9 .1-277.4 .23 193.3 .51-159.2 .13 108.9 .34 74.9 .17-139.9 .06-39.1 .1 110.1 .44-76.3 .14 175.7 .33-300.9 .24 196.5 .33 6.6 .34-121.1 .34-3.3 .06 227.9 .17-204.3 .31 115.6 .2-119.9 .4 145.3 .27 10.9 .17-177.7 .37-21.5 .13 161.3 .17-22.8 .44-120 .27 143.7 .03-202.8 .3 108.9 .21 154.7 .53-39.2 .07-119.5 .51-20 .1 139 .16-30.2 .07-141.6 .67 6.2 .07 254.6 .07-241.6 .23 184.6 .51-69.3 .1-97.3 .44-64.5 .17 223.8 .13-36.8 .3-183 .14 54.6 .1 139.7 .47-31 .1-103.1 .4 98.3 .21-138.1 .16 184.2 .31-146.3 .43 79 .04-178.3 .47-19.9 .23 324.2 .24-243 .03 133.9 .37 39.7 .24-193.3 .47 157.6 .1-113.4 .2 140.5 .04-185.5 .7 232.6 .07-189 .17-52.7 .13 177.7 .27-195.2 .17 216.6 .34-213.8 .4 206.9 .2-140.2 .1 145.8 .44 34.8 .34-213.6 .03 65.8 .07 160.2 .8-32.2 .04-228.7 .17 172 .06-106 .74 245.2 .07-284.2 .1 180 .07-177.8 .6 24.8 .21 137.4 .23 70.3 .1-183.6 .37 136.1 .24-145.1 .17 147.6 .13-204.1 .51 231.8 .26-182.3 .14 135.3 .17-254 .57 111.2 .03 139 .24 34.7 .3-146.7 .2 138.9 .04-181.6 .6 18.3 .14 146.2 .37 106 .13-240.6 .4 21.1 .11 168.6 .4-211.6 .17 171.8 .2-146.4 .23 112.9 .27 44.6 .1-150.5 .31-140.8 .27 299.3 .16-212.4 .44 161.9 .24-116.2 .13 158.2 .37-202.5 .2 186.1 .37-35.9 .04-184.8 .57 170.4 .03-93.7 .47-141.4 .1 269.8 .07 17.6 .14-157.5 .33-.2 .44 161.5 .17-129.1 .1 209.9 .47-56.6 .07-171.8 .23 177.2 .24-200.6 .47 139.3 .07-92.3 .47 96 .17-85.1 .1 142.9 .06-308.5 .74 117.8 .14 254.4 .2-90.4 .2-139.8 .54-72.6 .03 203.2 .17-195 .17 218.4 .51-243.5 .2 232.1 .13-201.3 .24 156.8 .33-120 .24 196.5 .13-250.8 .37 185.1 .34-186.2 .17 201.1 .2-191.2 .03 238.2 .61-82.7 .13-128.3 .17 188.6 .41-182.8 .26 4.3 .14 169.5 .17 23.8 .37-219.8 .17 201.1 .06-249.5 .37 85.1 .17 133.6 .51-116.5 .2 130.6 .43-2.6 .04-167.6 .3 167.6 .1-141 .44 42.2 .07 124.4 .37 39.1 .03-193.4 .64-12.1 .17 212.4 .33-208.2 .04 115.8 .47-144.8 .03 185.9 .2-169.9 .27 163.9 .51-64.1 .13-112.6 .24 124.8 .27-89.3 .23 108.4 .17-118.6 .3 138.9 .2-119.6 .54 176.8 .04-206.2 .06 206.5 .27-177.8 .24 128.8 .47-129.9 .1-140.7 .1 290.1 .67-31.9 .04-284.9 .17 282.2 .1-205.3 .33 310.8 .41-259.1 .13-91.9 .04 249 .53-30.3 .14-151.9 .47 1.5 .07 167.9 .5-34.6 .14-120.8 .13-13 .2 160.4 .24 37.2 .13-155 .44 183.3 .2-170.7 .47-13.5 .04 180.9 .3-200.1 .23 129.3 .31-143 .27 133.1 .4-122.6 .17 151.9 .06-192.8 .31 264.6 .2-276 .37 250.1 .3-215.4 .27 199.1 .03-195.9 .17 143.9 .54 40.4 .2-188 .1 75.6 .31 153.5 .27-303.3 .06 246.8 .41-119.1 .1 123.3 .37-7.6 .13-188.8 .57 49.7 .14 182.3 .3 45.7 .24-209.3 .13 164.4 .24-303.5 .23 306.2 .27-189.1 .47 30.4 .17 124.5 .13-178.2 .24 205.4 .54 65.4 .1-323.5 .27 88 .17 116.5 .33 56.6 .07-149.6 .54 131.3 .17-159.1 .06 38.6 .34 124.7 .3-38.9 .2-159.6 .14 46.8 .17 146.3 .33-120.8 .1 116.4 .37 9.8 .41-182 .1 59.4 .34 116.3 .57-15.1 .03-186.3 .3 171.5 .24-144.9 .13 171.9 .21-231 .27 207.3 .06-115.5 .37 140.3 .31-176.3 .26 136.7 .24-168.2 .17 63.8 .07 165.2 .6-186.6 .24 151.2 .16-2.6 .04-96.5 .4-122 .17 237.9 .5 6.4 .17-196.5 .47 17.9 .07 139.6 .3 47.5 .27-180.3 .1 16.4 .21 228.3 .23-109.3 .44-175.3 .07 88.5 .47 239.9 .1-264.2 .06 185.4 .37-290 .48 321.5 .03-291.2 .44 220.2 .33-48.3 .04-131.8 .23 8.9 .27 139.4 .4 26.1 .14-160.3 .5 154 .04-137.9 .23 133.9 .17-146.3 .47-7.8 .07 167.1 .4-139.2 .04 162.2 .23-179.2 .44 130.3 .13-197 .14 227.4 .3-27.2 .2-169.4 .57 18.9 .07 170.6 .37-129 .1 109.8 .54-11.8 .1-103.4 .14-59.7 .16 154.2 .41-110.5 .07 150.2 .67-15.6 .03-215.8 .04 243.2 .23-162.3 .54 164.5 .13-166.9 .37 172.7 .07-187.6 .24 185.7 .2-177.8 .27 146.2 .13-125.9 .34-52.3 .37 329.2 .2-118.4 .07-214.8 .6 169.3 .1-123.8 .44 2.7 .04 129.9 .2 35.3 .03-162 .44 7.7 .27 147.5 .54-139.8 .06 120.9 .44-204.9 .17 208.3 .07-13.5 .13-170.7 .64 277.6 .1-220.3 .27-24.1 .1 194.6 .44-61.7 .2-189 .3 67.5 .17 203.8 .37-82.9 .03-187.3 .34 40.9 .17 152.4 .47-131.1 .1 209.5 .1 42.6 .24-239.4 .53 28.1 .14 73.8 .13-218.1 .37 279.1 .34-221.4 .17 287.6 .37-83.9 .2-187.9 .3-48.1 .07 216 .2 83 .41-247.2 .13 16.6 .27 187 .3-17.8 .17-144.7 .4 160.2 .14-206.3 .3-34.2 .27 220.7 .37 .8 .13-213.2 .24 53.6 .3 154.5 .14 9.7 .1-125.6 .33 174.9 .21-221.8 .27 191 .27-200.6 .4 204.2 .1-225.5 .34 179.6 .33-142.7 .14-122 .1 271.1 .33-148.6 .04 126.4 .67 16.4 .2-178.8 .07 49.8 .03 182.1 .61-48.1 .23-197.6 .27 176.4 .14-291.7 .44 299.6 .16-164.9 .1 231.2 .07-272.6 .81 203.2 .03-145.7 .41 159.3 .16-173.5 .11 147.5 .3-104.5 .33-48.7 .24 168.9 .34-110.5 .06 179.5 .21-249.3 .03 227.5 .6-13.8 .24-188.4 .3-21.8 .14 260.3 .3-87.7 .2-250.8 .24 96.4 .2 144.2 .3 59.4 .07-181.1 .4 191.2 .2-147.8 .44-116.6 .07 212.5 .47-33.8 .1-119.4 .34 35.3 .17 111.9 .53-100.7 .04 140.5 .06-228.2 .27 223.9 .27 39.3 .31-216.2 .3 155.1 .27-224.5 .13 280.4 .2-180.7 .44 106.1 .27-206.1 .37 82.2 .1 181.8 .17-58.4 .03-176.1 .41-63.8 .13 250.4 .47-171.8 .3 145.3 .11 26.8 .2-86.4 .23 69.3 .21-132.6 .4 15.7 .3 264.6 .14-335.5 .4 257.7 .3-216.1 .17 132.9 .3 20.1 .27-131.9 .17 26.8 .14 106.1 .3 53.8 .2-135.2 .3-39.1 .31 202.1 .4-282.4 .03 201.8 .57 16 .04-133.9 .37-38.2 .1 205.8 .17-132.1 .23 85.6 .41-140.4 .03 178.4 .37-240.7 .24 201.4 .23-32.6 .1-103.3 .34 160.2 .17-115.9 .6-4.2 .17 131.6 .34-35.2 .13-143.4 .34 18.6 .03 97.9 .37 35.3 .1-165.2 .47 15.2 .24 242.3 .3-74.7 .1-174.3 .24 179.1 .17-298.6 .26 133.3 .07 159.6 .54-155.2 .1 148.6 .34-8.6 .1-103.1 .33-66.9 .14 192.4 .57 62.1 .1-186.8 .17-72.3 .07 175.8 .64 36.6 .03-183.2 .44-58.2 .03 220.7 .51-14.7 .16-150.8 .21 31.3 .26 107.7 .21 20 .03-254 .67 110.1 .14 138.7 .1-23.9 .27-112.4 .5 244.9 .04-340 .3 246.1 .03-151 .34 128.7 .4-146.6 .31 182.4 .03-199.6 .47 42.8 .2 127.2 .2 25.3 .17-136.8 .27 113.6 .17-143.6 .47 150.4 .2-124 .2 129.8 .04-241.7 .4 99.2 .14 199.2 .4-84.4 .4-143.1 .1 153.2 .24-135.3 .23 155 .37-206.3 .48 45.7 .06 150.5 .14 38.9 .1-144.1 .33-33.9 .24 211.2 .47-235 .2 204 .07-381 .1 386.3 .61-60.2 .13-114.5 .17 138.5 .27-132.1 .64 136.7 .06-145 .27 99.4 .1-174 .21 198.2 .03-229.6 .71 64.6 .06 223 .34-167 .2 114.2 .1-165.6 .04 225.9 .84-254.1 .06 177 .37-109.1 .04 138.2 .4-45.2 .1-129.8 .2 8.7 .37 151.1 .14-178.3 .1 166.4 .61-119.1 .1 97.3 .27 47.3 .33-137.3 .2 141 .31-119.2 .03 195.3 .13-241 .44-23.5 .27 137.2 .24 104.6 .33-227.6 .27-22.3 .14 216.3 .33-241.2 .14 308.1 .27-277.3 .06 187.4 .37-287.2 .04 260.6 .6 40.7 .07-142.3 .3 79.7 .14-148.4 .57 188.6 .07-172 .6 13.7 .07 127.7 .24-109.4 .06 115.8 .54 54.2 .1-160.5 .34-84.9 .23 192.3 .34-158.9 .17 159 .33-140.6 .14 171 .17-7.7 .2-150.5 .2 141.5 .24-192.9 .37 46.6 .13 237.5 .64-209 .07 118.9 .06 70 .41-200.3 .2-15.5 .2 117.6 .34-246.9 .3 281 .17-1.1 .34-183.6 .2 28.7 .06 217.8 .34-254 .3 217 .34 31.5 .17-162.9 .37-124.2 .2 224.1 .3-122.2 .1 149.7 .24-26.7 .17-172.2 .57 167.6 .03-217.4 .2 215.7 .04-238 .44 63.9 .26 189.6 .24-155 .24 130.7 .33-10.8 .27-85.6 .17 117.7 .13-145.7 .51 11 .2 141.6 .17-192.2 .34 226.8 .1-69.9 .16-179.1 .37 52.3 .31 102.1 .13-123.5 .3 142.5 .51 35.9 .1-179.4 .3 55.7 .17 148.1 .24-33.5 .27-142.4 .37 15.8 .23 113.7 .27-23.4 .2-157.4 .3 47.4 .24 123.6 .07-130.8 .33 142.6 .17 94.9 .41-221.5 .03 122.3 .03-136.4 .54 30 .3 113.3 .21-164.7 .26 154.8 .17 23 .2-197 .34 60.3 .2 112.4 .27-185.8 .27 272.1 .34-186.1 .23 178.6 .17-203.3 .34 200 .37-87.9 .2-201.8 .1 236.8 .3-94.3 .17-63.4 .34 248.5 .17-257 .3 165.7 .4-59.2 .14-123.8 .27 68.8 .23 173.6 .2-220.7 .24 130.9 .37 4.8 .2-167.1 .17 159 .1-87.4 .4-35.4 .1 130.2 .68 93.7 .16-191 .37-53 .04 173.4 .47 60.4 .03-197.3 .17 15.5 .34 226.2 .47-126.1 .07-125.4 .06 151.3 .41-149.7 .23-14.9 .14 194.7 .3-179.5 .24 135.6 .26-11.3 .21-226.7 .4 118.7 .03 156.5 .27-178.9 .07 214.4 .87-24.2 .04-183.1 .13 158 .24-212 .17-2.4 .1 227.3 .7 34 .17-206.9 .2 39.1 .24 99.2 .17-116.1 .03 219.5 .44-71.2 .17-184.3 .3 166.5 .44-130.4 .13-9 .34 159.5 .06-149.7 .11 148.9 .5-10.6 .2-113.2 .64 128.6 .03-213.8 .21 77.2 .27 131.2 .13 92.7 .1-389.5 .34 131.3 .1 141.7 .67-230 .14 208.3 .06-190.3 .47 256.2 .24-48.6 .27-159.3 .03 131.1 .3-109.9 .41-24.3 .03 201.4 .34-179.1 .2 178.5 .4-270.4 .14 241.3 .4-138.6 .24 224.9 .47-100.4 .03-114.9 .2 122 .31-276 .27 134.9 .06 115.4 .2-104 .04 104.9 .5-11.3 .34-158.2 .47 36.2 .07 193 .06 98.4 .48-311.9 .2 160 .23-112.8 .24-46.2 .3 177.9 .2-156.7 .34 179.3 .27 14.2 .23-192.7 .21-21.1 .27 181.3 .1-20.1 .33-114.3 .2 122.6 .17-99.3 .37 122.9 .34-225.7 .44 66.4 .06 188.4 .07-10.5 .4-260.2 .41 219.1 .1-174.1 .07 153.2 .43-87.9 .24 148.1 .2-185.8 .3 172.2 .27-152.7 .44 12.9 .03 169 .17-206.5 .14 121.5 .43-109.3 .21 106.9 .2 88.9 .33-142.3 .31-85.3 .03 200.9 .3-215.3 .04 202 .47 16.5 .4-171.2 .3 22.6 .14 113.3 .37 71.2 .1-266.7 .17 196.5 .3-133.1 .34 203.1 .3-263.8 .17 43.3 .17 176.9 .43-279 .04 272.9 .4-16.6 .1-122.1 .57-21.7 .1 120.8 .41 8 .06-146.1 .11 37 .13 139.3 .34-126 .43 111.6 .17-8.5 .2-229 .24 92.4 .17 136.8 .47-137 .2 133.6 .2-120 .14 117.7 .67 44.4 .03-180.4 .07 12.8 .03 167.6 .54-191.7 .2 214.5 .44 6.3 .04-211.7 .37 181.6 .1-177.3 .43 28 .27 120.6 .37-112 .04 133.2 .33-35.3 .14-150.7 .33 159.2 .04-150.2 .33 222.7 .34-210.3 .17 149.9 .3-157.7 .37 169.9 .14-242.7 .47 327.4 .06-270.8 .27-12.3 .31 143.9 .16 32.5 .31-178.7 .13 14.1 .44 169.1 .33 71.9 .17-199.3 .17 117.5 .34-146.1 .03-3.4 .3 131 .41-104 .13 107.7 .24 26.2 .23-154.5 .34 245 .17-236.2 .23-36.4 .1 191.3 .64-192.7 .07 197 .4-24.5 .04-94 .3 98.5 .27-295.7 .2 157.5 .1 148.7 .44-122.1 .07 127.1 .33-135.8 .2 118.4 .64-4 .04-119.8 .13 138.7 .2-218.7 .58 91.6 .13 101.8 .2-145.8 .27 174.2 .27-117.5 .2 131.1 .24-137.7 .13 88.8 .3 15.1 .34-162.5 .34 38.1 .17 101.8 .23-112.4 .2 129.5 .31 .9 .33-116 .34 161 .17-168 .1 165.5 .23-164.1 .61-23.4 .07 304.2 .37-101.7 .03-206.5 .2 3.4 .07 112.3 .4-106.7 .31 125.9 .4-90.4 .2 101.5 .14-93.5 .2 136.1 .4-210.1 .14 184.4 .43 84.2 .04-256.3 .37 69.5 .3 94.1 .1-176.9 .07 156.5 .5-168.6 .04 154.9 .37 129.1 .4-229.2 .47-120.6 .03 302.5 .24-60.2 .17-154.2 .13 204.8 .04-147.5 .6-12.3 .34 147.1 .03-193.4 .2 183.4 .64 .3 .04-133.3 .33 121.8 .1-105.7 .51 69.3 .13-92.5 .1 171.3 .17-143.9 .4-126.8 .04 279 .47-249.9 .3 215 .1-163.6 .17 208.6 .64-242 .1 167.3 .03-115.4 .14 143.6 .4-1 .27-154 .27 140 .03-138.3 .61 108.1 .27-102.9 .2 150 .07-126.9 .3-33 .37 239.7 .44-236.9 .07 172.3 .1-227.3 .33 189.3 .14-6.7 .07-115.7 .53 241.1 .14-247.3 .33 207.5 .14-320.8 .47 268.2 .3-185.5 .2 130.1 .27-126.1 .34 56.5 .1 143.6 .1-40.5 .47-143.2 .24 149.5 .27-136.8 .17 4.1 .13 233.7 .27-270.1 .1 176.2 .37-154.5 .1 139.4 .74-117.8 .03 82.8 .51 71 .1-159.2 .17 110.6 .27-147.7 .2 193.7 .2-168.1 .2 124.5 .14-108 .5 98.5 .1-117.5 .24 112.6 .47-78.2 .17 111.2 .1-135.1 .4 176.4 .04-156.5 .37-20.6 .23 149.6 .2-187.6 .41 191.9 .13-145.3 .24 92.6 .23 116.4 .41-218.2 .43 116.2 .04-134.3 .13 135.2 .4-94.2 .21 159.6 .1-235.8 .43 256.1 .07-265.5 .27 43.8 .07 152.3 .47-136.3 .4 118.8 .1-193 .31 175.8 .27 91.9 .3-208.6 .2 153.5 .13-193 .48 213.4 .03-193.6 .4 240 .07-202 .54 142.8 .13-154.6 .31-3.8 .23 153.6 .27-162.1 .07 181.1 .44-189.6 .26 258.2 .11-209 .4 90.3 .03-111.6 .37 258.7 .34-119.6 .07-127.5 .47 9.6 .17 194.2 .16-248 .27 161.7 .31-1.7 .1-216.6 .23 23.9 .34 173.7 .2-76.5 .24 126.8 .5-130.6 .1 101.7 .4 27.2 .04-146.4 .33 140.7 .17-139.9 .17-245.2 .34 403.5 .47-41.8 .07-116.8 .4 120.6 .03-144.9 .24 165.7 .33-178.5 .27-34.8 .14 260.9 .44-185.2 .03 141.2 .4 13.5 .31-134.9 .06-58 .17 121.7 .57 26.2 .07-147 .37-5.3 .03 152.9 .37-128.7 .31 174 .1-172.6 .06 128.5 .71-130.8 .14 147 .16-136.4 .21 102.5 .47 2 .1-121.8 .4 8.8 .07 149.5 .37-139.8 .2 133.2 .1 65.2 .1-341.8 .44 158.7 .03 151 .51-170.7 .17 161.6 .5-51.1 .07-175.4 .3 209.6 .07-144.3 .37 105.8 .37-117.8 .44 34.2 .06 98.2 .27 6.6 .07-102.3 .44 177.6 .03-202.1 .27 12.8 .17 161.3 .4-301.2 .37 280.2 .34-26.1 .03-186.6 .44 195.5 .17-137.8 .13 152.4 .07-195.4 .64 272.7 .03-252.2 .24-16.4 .3 130.5 .2 93.1 .3-231.3 .47 253.5 .07-213.6 .51 38.6 .1 160.1 .1-163.3 .37 87.8 .4-108 .04 201.2 .3-50.2 .07-159.2 .23 27.6 .24 146 .47-167 .27 93.5 .33 60.1 .14-190.3 .17-21.1 .06 166.3 .64 3.6 .1-150 .41 30.5 .13 124.5 .17-131.1 .27 128.5 .1 33.9 .3-170.4 .27 139 .17-143.4 .37-3.2 .17 221.6 .33-72.7 .24-136.8 .47 145.1 .13-103.3 .24-81 .27 198.5 .1-127.6 .3 144.3 .17-4.3 .07-146.2 .44 174 .33-162.7 .37-10 .04 155.3 .26-195.5 .44 152.1 .04 24.8 .16-177.3 .34 151.6 .37-136.4 .17 176.1 .34-192.6 .1-15.1 .16 210.7 .34-171.1 .44 172.1 .07-162.6 .06 176.5 .57-40.1 .24-155.1 .2 29.1 .2 116.8 .24-151.6 .2 132.5 .34 30.5 .23-171.9 .31-25 .37 216.9 .03-156.1 .4 135.2 .31-182.2 .26 176.3 .27 20.7 .21-162.9 .13 162 .3-193.4 .2 157.4 .41-112.2 .17-23.7 .06 159.3 .27-6 .2-109.6 .31 106.8 .3-149.9 .47 168.6 .17-180 .13 151.2 .1-157.4 .54 207.5 .07-220.5 .27 28.8 .44 152.4 .2-4.1 .1-195.8 .2 218.2 .24-140.1 .33 10 .2 117.8 .41-225.7 .23 271.7 .24-72.3 .2-106.7 .17 108.6 .34-108.1 .4-32.4 .2 192.8 .14-163.3 .06 172.9 .47-40.7 .17-114.9 .2 114.8 .27-157.1 .24 33.4 .03 110.7 .61-11.4 .33-108.8 .07 149.6 .2-180.1 .61 38.2 .1 102.6 .2-154.3 .27 151.8 .14-143.4 .4 151.8 .4-111.8 .07 98.5 .07-3.3 .4-147.4 .14 18.4 .16 171.5 .37-27.7 .04-190.9 .6 82.7 .17 158.5 .3 2.3 .24-170.2 .4 172.4 .14-185.8 .27-19.6 .1 273.8 .27-247.3 .23 230.2 .27-84.6 .2-146.1 .24 121 .44-132.3 .1 207.4 .1-287.3 .4 259.2 .27-247.7 .24 49.6 .3 215.3 .4-165.4 .1 120.7 .27 10.8 .3-92.7 .14-77.3 .34 139.7 .43-181.3 .1 203.4 .21-109.9 .3 73.2 .37 60.2 .03-178.8 .54 51.2 .07 98.9 .1-135.2 .07 145.4 .53 12.9 .04-221.5 .5 176 .14-79.6 .5 86.6 .07-112.5 .13 106.1 .31-89.6 .23 118.4 .27-189.1 .3 82.3 .31 232.9 .16-287.3 .17 249.3 .24-11.3 .4-268.5 .27 51.4 .13 174.4 .14-30.5 .47-132.7 .13 111.9 .38-120.6 .2 133.6 .23-146.1 .17 5.3 .17 86.3 .6 103.7 .14-156.4 .3-7.4 .07 80.4 .23-147.8 .27 153.4 .34 147.1 .13-253.6 .31-9 .06 159.4 .37 6.4 .34-123.8 .3-44.6 .07 236 .27-99 .27-150.4 .37 3.7 .03 161.9 .41 38.5 .16-204 .27 36.1 .31 160.4 .27-175.6 .13 136.7 .34 70.6 .33-175.1 .1 146.3 .41-137 .1 70.3 .44-104.9 .3 234.4 .1-259.6 .1 12.5 .4 159.9 .34-241.1 .1 190.2 .51 17.9 .06-118.8 .27 166.4 .04-172 .4 4 .07 129.3 .47 102.8 .03-285.5 .44 45.5 .1 138.4 .54-135.3 .17 124.9 .26 50.2 .17-219.7 .51 137.8 .1-122.6 .17 9.2 .03 154.7 .5-256.2 .07 220.9 .3-98.1 .07 185.6 .57-47.1 .1-173.4 .37 230.3 .17-162.8 .37-87 .2 178.5 .24 68 .17-307.4 .47 90.5 .2 202.3 .07-206.2 .37 170.7 .13-137.9 .14 122.8 .4-2.3 .27-130.2 .17 28 .03 184.9 .51-266 .2 206.7 .5-2.7 .07-117.9 .34-52.2 .03 180.6 .34-159.3 .2 147.8 .37-41.6 .3-140.4 .27 6.7 .07 165.8 .27-24.8 .37-121.6 .37 152.8 .03-170 .27 184.4 .1-134.4 .64 107.3 .07-168.6 .13 245.2 .27-231.5 .57 62.9 .07 99.8 .44 72.2 .1-228.7 .4 50.6 .1 96.2 .17-151.4 .14 271 .47-214.9 .03 105.6 .34-14.4 .1-134.1 .6 138.5 .17-111.4 .3 97.6 .14-130.4 .47 151 .03-125.4 .1 137.5 .07-214.3 .74 203.8 .03-104 .48-45.4 .06 146.7 .44-25.9 .03-99.9 .21 5.1 .16 108.5 .68-152.6 .06 164.3 .1-124.1 .31 130.1 .2 1.7 .4-164.4 .27 137.3 .17-112.8 .24 172.9 .23-211.1 .17 46.2 .2 103.6 .4 15.1 .04-129.8 .6 175.3 .14-171.2 .07-19.3 .37 135.2 .27-164.2 .3 195.9 .17-128.9 .06 102.6 .34-93.2 .24 72.3 .43 156.4 .27-251.2 .1 106.8 .1-88.8 .44-17 .1 156.4 .3 17.6 .48-186.2 .2 140 .03-178.4 .37 44.7 .37 146.5 .27 56.4 .13-196.3 .31-20.5 .1 184.9 .33-195.4 .27 165.1 .17 39.2 .3-156.1 .37 101.2 .17-165.9 .24 59.3 .27 126.6 .27-151.3 .16 137.5 .27 70 .21-207.2 .57-3.6 .03 120.7 .34 95 .17-265.2 .37 154.1 .06-126.5 .54 174.1 .1-92.1 .27-44.8 .03 106.7 .27 9 .44-167.8 .07 286.7 .2-254.7 .34 25.2 .1 164 .3-314.9 .3 267.3 .61 16.4 .03-136.1 .07 150 .07-164.8 .47-3.9 .33 116.2 .24-98.4 .27 109.7 .23 47.8 .14-197.1 .44 31.9 .06 167.4 .31-152.4 .13 77.4 .34 63.6 .17-129.1 .3 99.8 .4-120.6 .44 146.1 .1-155.8 .34-65.4 .16 217.7 .14-119.5 .2 225 .4-249.6 .31 137.6 .13-18.5 .3-157.2 .37-142.2 .17 365.9 .27-81.9 .04-86.9 .4-26.1 .07 102 .47 76 .06-200 .61 187.1 .03-104.5 .27-46.9 .27 129 .1-11.3 .24-111.7 .3-14.9 .27 234.4 .37-278.5 .1 189.5 .27-29.6 .1-233.2 .34 112.3 .17 169.7 .33 56.2 .34-201.7 .17 149.9 .33-283.4 .41 87.8 .03 188.4 .2-171.6 .14 202.3 .37-195 .4 125.5 .37-126.8 .03 194.7 .37-140.9 .14 75.8 .37-142.8 .07 195.7 .6-192.4 .03 144.7 .34 74.1 .2-218.7 .34 22.5 .1 131.4 .5 16.5 .04-137.1 .13-65 .31 179.7 .13-146.9 .44 126.3 .37-159.6 .1 214.4 .17-56.3 .27-123.1 .2 7.8 .27 165.7 .23 11.5 .14-179.2 .43 3.6 .07 99.6 .44-128.2 .13 227.4 .41-17.6 .1-140.7 .4 150.5 .2-187.2 .14 171 .23-259.7 .34 221.2 .27-102.7 .2-29.2 .2 138.3 .37-189.2 .04 277.4 .64-43.8 .06-211.8 .24 50.1 .37 124.7 .3-149.5 .14 140.3 .13-14.1 .03-138.7 .47 182.4 .21-183.8 .3 194.3 .27-277.4 .23 14 .1 263.7 .51-33.8 .03-112.4 .47-15.9 .21 177.9 .43-33 .14-151.6 .33-2.7 .14 104.5 .17-135.7 .3 261.4 .5-101.1 .04-167.5 .17 41.2 .2 148.3 .23-158.1 .37 257.9 .1-257.3 .1 106.5 .54-153 .1 249.3 .44-188.1 .27 143.5 .1-1.7 .44-245.6 .3 68.3 .2 156 .07-21.9 .1-136.2 .61 2.4 .06 178.6 .17 7.8 .04-207 .47 196.4 .2-242.3 .6 211.5 .07-100.9 .27-114.4 .34 268.4 .27 19.4 .06-199.7 .27 153.3 .34-164.4 .2 149.6 .27-163.6 .13 232.6 .21-212.7 .33-94.3 .31 254.3 .26 4.7 .17-256.1 .57 300.3 .11-278.3 .13 242.2 .1-140.8 .74-13.8 .03 179.9 .17-234.4 .04 182.8 .4-144.3 .03 192.4 .54-238.1 .2 191.1 .37 33.7 .17-148.5 .14 105.6 .4-192.2 .1-1.9 .1 174.8 .61-123.7 .06 259.9 .37-113.8 .31-187.5 .13 159.2 .34-86.5 .03-2.3 .1 124.9 .51-38.8 .1-138.9 .44 141.1 .03-134.5 .67 23 .04 122 .47-2 .13-106 .07 144.3 .37-165.9 .33 252.6 .07-212.6 .37 150.5 .27-154.2 .03 154.1 .07-180.4 .47 206.9 .1-197.7 .47-31.3 .11 139.6 .57-155.3 .13 216.1 .24-163.1 .33 126 .17 57.5 .34-162.2 .13 88.9 .27-244.6 .44 13.5 .03 204.1 .17-212.5 .1 242.5 .71-135.1 .07 191.4 .16-230.7 .1 166.5 .48-132.8 .06 165.9 .37-25.5 .14-93.9 .37-127.4 .27 208.7 .3-84.7 .2 88.3 .2 2.7 .1-173.9 .48 69.3 .13 163.9 .24-41.5 .13-119.9 .54 96.5 .2-104.5 .4 130 .14-127 .33-36.6 .14 157.8 .3-28.2 .24-139.6 .4 218.9 .03-164.4 .17 113.1 .34-147.5 .23-67 .14 230.9 .34 18.5 .4-153.8 .1 115.3 .34-145.6 .2 194.4 .2-219.7 .44 184.6 .06-165.8 .44-.6 .1 160.4 .17 15 .34-220.3 .37 224.2 .13-156.8 .47-36.1 .04 196.5 .27-24.7 .33-133.5 .27 233.2 .07-206.6 .37-39 .1 142.6 .2-21.1 .24-152.4 .43 29.1 .07 174.9 .64-237.6 .03 324.8 .27-116.9 .27-94.6 .07-58 .03 190 .61-50.1 .23-93 .17 146.8 .27-150.5 .34 81.6 .1-86.5 .27-47 .23 240.1 .44-211 .13 209.8 .31-222.6 .2 182.6 .37-81.4 .07-103.3 .23 8.1 .31 199 .4 55.7 .23-231.5 .17 20.7 .34 164.7 .23-173.3 .07 120.5 .37 2.7 .34-172.6 .1 183.1 .13-167.3 .71 142.9 .07-118 .33 116.7 .14-192.3 .07 45.5 .43 121.4 .37 92.2 .07-193.4 .37 95.2 .2-97.4 .24-16.4 .06 156.4 .27-123.6 .37 178.8 .21-199.7 .33 117.7 .1-127.5 .37 163.8 .27-18.5 .27-238.6 .17 107.9 .2 186.6 .2-81.4 .34-97.4 .17 17.3 .3 116 .27 60.8 .27-216.7 .17-6.3 .4 219.3 .27-171.8 .27 130.6 .03-188.5 .47 175.8 .27-168.9 .07 163.5 .23 21.8 .07-226.9 .44-20.8 .34 275.3 .1-38 .33-210.5 .27 1.2 .34 258.8 .13-69.7 .2-131.9 .48 167.7 .2-148.9 .3 148.2 .17-167.5 .4 14 .07 185.9 .2-192.6 .07 134.8 .5-27.2 .27-160 .14 132.7 .4-136 .24-1 .16 220.9 .41-48.7 .13-169.4 .27 52.5 .2 171.9 .27-161.5 .24 230.1 .44-98.9 .1-159.6 .23-41.6 .17 204.4 .3-183.4 .07 184.7 .64-167.4 .1 193.2 .24-245.5 .26 250.3 .11-83.1 .13-105.5 .44-7.2 .3 201.1 .34-18 .1-146 .4-30 .14 170.2 .16-181.8 .1 172.3 .51-186 .07 198.5 .27 77.8 .43-219.7 .24-6 .13 172.5 .61-12.6 .03-236.4 .34 175 .17-94.2 .03-7.4" stroke="#4C72B0" stroke-opacity="0.5" stroke-width="2.55" stroke-linejoin="round" stroke-linecap="square" fill="none"/>
<path d="M200.00 419.40H1440.00" stroke="#DD8452" stroke-opacity="0.5" stroke-width="2.083" stroke-linecap="square" fill="none"/></g>
<path d="M200.0 684.5H1440.0M200.0 628.5H1440.0M200.0 572.5H1440.0M200.0 516.5H1440.0M200.0 460.5H1440.0M200.0 404.5H1440.0M200.0 348.5H1440.0M200.0 292.5H1440.0M200.0 236.5H1440.0M200.0 180.5H1440.0M200.0 124.5H1440.0" stroke="#fff" stroke-width="1.389" fill="none"/>
<path d="M243.06 684.00V124.00M268.89 684.00V124.00M820.02 684.00V124.00M837.24 684.00V124.00" stroke="#000" stroke-opacity="0.45" stroke-width="2.083" fill="none"/>
<polyline clip-path="url(#c)" points="200.00,556.32 208.61,682.88 217.22,684.00 225.83,684.00 234.45,684.00 243.06,677.84 251.67,124.00 260.28,124.00 268.89,124.00 277.50,682.88 286.11,684.00 294.72,684.00 303.34,684.00 311.95,684.00 320.56,684.00 329.17,684.00 337.78,684.00 346.39,684.00 355.00,684.00 363.62,684.00 372.23,684.00 380.84,684.00 389.45,684.00 398.06,561.92 406.67,677.84 415.28,684.00 423.89,684.00 432.51,684.00 441.12,684.00 449.73,684.00 458.34,684.00 466.95,684.00 475.56,684.00 484.17,684.00 492.79,684.00 501.40,684.00 510.01,684.00 518.62,684.00 527.23,684.00 535.84,684.00 544.45,684.00 553.07,684.00 561.68,684.00 570.29,684.00 578.90,684.00 587.51,684.00 596.12,684.00 604.73,684.00 613.34,684.00 621.96,684.00 630.57,684.00 639.18,684.00 647.79,684.00 656.40,684.00 665.01,684.00 673.62,684.00 682.24,684.00 690.85,684.00 699.46,684.00 708.07,684.00 716.68,684.00 725.29,684.00 733.90,684.00 742.51,684.00 751.13,684.00 759.74,684.00 768.35,684.00 776.96,684.00 785.57,684.00 794.18,684.00 802.79,684.00 811.41,684.00 820.02,404.00 828.63,124.00 837.24,124.00 845.85,404.00 854.46,684.00 863.07,684.00 871.68,684.00 880.30,670.00 888.91,675.04 897.52,684.00 906.13,684.00 914.74,684.00 923.35,684.00 931.96,684.00 940.58,684.00 949.19,684.00 957.80,684.00 966.41,684.00 975.02,684.00 983.63,684.00 992.24,684.00 1000.86,684.00 1009.47,684.00 1018.08,684.00 1026.69,684.00 1035.30,684.00 1043.91,684.00 1052.52,684.00 1061.13,684.00 1069.75,684.00 1078.36,684.00 1086.97,684.00 1095.58,682.88 1104.19,684.00 1112.80,684.00 1121.41,684.00 1130.03,684.00 1138.64,684.00 1147.25,684.00 1155.86,684.00 1164.47,684.00 1173.08,684.00 1181.69,684.00 1190.30,684.00 1198.92,684.00 1207.53,684.00 1216.14,684.00 1224.75,684.00 1233.36,684.00 1241.97,684.00 1250.58,684.00 1259.20,684.00 1267.81,684.00 1276.42,684.00 1285.03,684.00 1293.64,684.00 1302.25,684.00 1310.86,684.00 1319.47,684.00 1328.09,684.00 1336.70,684.00 1345.31,684.00 1353.92,684.00 1362.53,683.16 1371.14,678.18 1379.75,675.60 1388.37,682.88 1396.98,684.00 1405.59,684.00 1414.20,684.00 1422.81,684.00 1431.42,684.00" stroke="#55A868" stroke-width="2.083" stroke-linejoin="round" stroke-linecap="square" fill="none"/>
<path d="M192 640.0H199M192 566.0H199M192 493.0H199M192 419.0H199M192 346.0H199M192 272.0H199M192 199.0H199M192 125.0H199M1440.9 684.0H1448M1440.9 628.0H1448M1440.9 572.0H1448M1440.9 516.0H1448M1440.9 460.0H1448M1440.9 404.0H1448M1440.9 348.0H1448M1440.9 292.0H1448M1440.9 236.0H1448M1440.9 180.0H1448M1440.9 124.0H1448" stroke="#262626" stroke-width="1.8" fill="none"/>
<g transform="translate(187.94,737.19)" font-size="16.27"><text transform="translate(0.00,0) scale(1.072,1)">0</text><text transform="translate(9.65,0) scale(1.072,1)">.</text><text transform="translate(14.47,0) scale(1.072,1)">0</text></g>
<g transform="translate(256.83,737.19)" font-size="16.27"><text transform="translate(0.00,0) scale(1.072,1)">0</text><text transform="translate(9.65,0) scale(1.072,1)">.</text><text transform="translate(14.47,0) scale(1.072,1)">5</text></g>
<g transform="translate(325.72,737.19)" font-size="16.27"><text transform="translate(0.00,0) scale(1.072,1)">1</text><text transform="translate(9.65,0) scale(1.072,1)">.</text><text transform="translate(14.47,0) scale(1.072,1)">0</text></g>
<g transform="translate(394.61,737.19)" font-size="16.27"><text transform="translate(0.00,0) scale(1.072,1)">1</text><text transform="translate(9.65,0) scale(1.072,1)">.</text><text transform="translate(14.47,0) scale(1.072,1)">5</text></g>
<g transform="translate(463.50,737.19)" font-size="16.27"><text transform="translate(0.00,0) scale(1.072,1)">2</text><text transform="translate(9.65,0) scale(1.072,1)">.</text><text transform="translate(14.47,0) scale(1.072,1)">0</text></g>
<g transform="translate(532.39,737.19)" font-size="16.27"><text transform="translate(0.00,0) scale(1.072,1)">2</text><text transform="translate(9.65,0) scale(1.072,1)">.</text><text transform="translate(14.47,0) scale(1.072,1)">5</text></g>
<g transform="translate(601.22,737.19)" font-size="16.27"><text transform="translate(0.00,0) scale(1.072,1)">3</text><text transform="translate(9.70,0) scale(1.072,1)">.</text><text transform="translate(14.55,0) scale(1.072,1)">0</text></g>
<g transform="translate(670.11,737.19)" font-size="16.27"><text transform="translate(0.00,0) scale(1.072,1)">3</text><text transform="translate(9.70,0) scale(1.072,1)">.</text><text transform="translate(14.55,0) scale(1.072,1)">5</text></g>
<g transform="translate(739.06,737.19)" font-size="16.27"><text transform="translate(0.00,0) scale(1.072,1)">4</text><text transform="translate(9.65,0) scale(1.072,1)">.</text><text transform="translate(14.47,0) scale(1.072,1)">0</text></g>
<g transform="translate(807.95,737.19)" font-size="16.27"><text transform="translate(0.00,0) scale(1.072,1)">4</text><text transform="translate(9.65,0) scale(1.072,1)">.</text><text transform="translate(14.47,0) scale(1.072,1)">5</text></g>
<g transform="translate(876.85,737.19)" font-size="16.27"><text transform="translate(0.00,0) scale(1.072,1)">5</text><text transform="translate(9.65,0) scale(1.072,1)">.</text><text transform="translate(14.47,0) scale(1.072,1)">0</text></g>
<g transform="translate(945.74,737.19)" font-size="16.27"><text transform="translate(0.00,0) scale(1.072,1)">5</text><text transform="translate(9.65,0) scale(1.072,1)">.</text><text transform="translate(14.47,0) scale(1.072,1)">5</text></g>
<g transform="translate(1014.56,737.19)" font-size="16.27"><text transform="translate(0.00,0) scale(1.072,1)">6</text><text transform="translate(9.70,0) scale(1.072,1)">.</text><text transform="translate(14.55,0) scale(1.072,1)">0</text></g>
<g transform="translate(1083.45,737.19)" font-size="16.27"><text transform="translate(0.00,0) scale(1.072,1)">6</text><text transform="translate(9.70,0) scale(1.072,1)">.</text><text transform="translate(14.55,0) scale(1.072,1)">5</text></g>
<g transform="translate(1152.41,737.19)" font-size="16.27"><text transform="translate(0.00,0) scale(1.072,1)">7</text><text transform="translate(9.65,0) scale(1.072,1)">.</text><text transform="translate(14.47,0) scale(1.072,1)">0</text></g>
<g transform="translate(1221.30,737.19)" font-size="16.27"><text transform="translate(0.00,0) scale(1.072,1)">7</text><text transform="translate(9.65,0) scale(1.072,1)">.</text><text transform="translate(14.47,0) scale(1.072,1)">5</text></g>
<g transform="translate(1290.19,737.19)" font-size="16.27"><text transform="translate(0.00,0) scale(1.072,1)">8</text><text transform="translate(9.65,0) scale(1.072,1)">.</text><text transform="translate(14.47,0) scale(1.072,1)">0</text></g>
<g transform="translate(1359.08,737.19)" font-size="16.27"><text transform="translate(0.00,0) scale(1.072,1)">8</text><text transform="translate(9.65,0) scale(1.072,1)">.</text><text transform="translate(14.47,0) scale(1.072,1)">5</text></g>
<g transform="translate(164.31,645.90)" font-size="16.27"><text transform="translate(0.00,0) scale(1.345,1)">−</text><text transform="translate(12.79,0) scale(1.072,1)">3</text></g>
<g transform="translate(164.43,572.40)" font-size="16.27"><text transform="translate(0.00,0) scale(1.345,1)">−</text><text transform="translate(12.72,0) scale(1.072,1)">2</text></g>
<g transform="translate(164.43,498.90)" font-size="16.27"><text transform="translate(0.00,0) scale(1.345,1)">−</text><text transform="translate(12.72,0) scale(1.072,1)">1</text></g>
<g transform="translate(177.18,425.40)" font-size="16.27"><text transform="translate(0.00,0) scale(1.072,1)">0</text></g>
<g transform="translate(177.18,351.90)" font-size="16.27"><text transform="translate(0.00,0) scale(1.072,1)">1</text></g>
<g transform="translate(177.18,278.40)" font-size="16.27"><text transform="translate(0.00,0) scale(1.072,1)">2</text></g>
<g transform="translate(177.06,204.90)" font-size="16.27"><text transform="translate(0.00,0) scale(1.072,1)">3</text></g>
<g transform="translate(177.18,131.40)" font-size="16.27"><text transform="translate(0.00,0) scale(1.072,1)">4</text></g>
<g transform="translate(1453.19,690.00)" font-size="16.27"><text transform="translate(0.00,0) scale(1.072,1)">0</text><text transform="translate(9.65,0) scale(1.072,1)">.</text><text transform="translate(14.47,0) scale(1.072,1)">0</text></g>
<g transform="translate(1453.19,634.00)" font-size="16.27"><text transform="translate(0.00,0) scale(1.072,1)">0</text><text transform="translate(9.65,0) scale(1.072,1)">.</text><text transform="translate(14.47,0) scale(1.072,1)">1</text></g>
<g transform="translate(1453.19,578.00)" font-size="16.27"><text transform="translate(0.00,0) scale(1.072,1)">0</text><text transform="translate(9.65,0) scale(1.072,1)">.</text><text transform="translate(14.47,0) scale(1.072,1)">2</text></g>
<g transform="translate(1453.19,522.00)" font-size="16.27"><text transform="translate(0.00,0) scale(1.072,1)">0</text><text transform="translate(9.70,0) scale(1.072,1)">.</text><text transform="translate(14.55,0) scale(1.072,1)">3</text></g>
<g transform="translate(1453.19,466.00)" font-size="16.27"><text transform="translate(0.00,0) scale(1.072,1)">0</text><text transform="translate(9.65,0) scale(1.072,1)">.</text><text transform="translate(14.47,0) scale(1.072,1)">4</text></g>
<g transform="translate(1453.19,410.00)" font-size="16.27"><text transform="translate(0.00,0) scale(1.072,1)">0</text><text transform="translate(9.65,0) scale(1.072,1)">.</text><text transform="translate(14.47,0) scale(1.072,1)">5</text></g>
<g transform="translate(1453.19,354.00)" font-size="16.27"><text transform="translate(0.00,0) scale(1.072,1)">0</text><text transform="translate(9.70,0) scale(1.072,1)">.</text><text transform="translate(14.55,0) scale(1.072,1)">6</text></g>
<g transform="translate(1453.19,298.00)" font-size="16.27"><text transform="translate(0.00,0) scale(1.072,1)">0</text><text transform="translate(9.65,0) scale(1.072,1)">.</text><text transform="translate(14.47,0) scale(1.072,1)">7</text></g>
<g transform="translate(1453.19,242.00)" font-size="16.27"><text transform="translate(0.00,0) scale(1.072,1)">0</text><text transform="translate(9.65,0) scale(1.072,1)">.</text><text transform="translate(14.47,0) scale(1.072,1)">8</text></g>
<g transform="translate(1453.19,186.00)" font-size="16.27"><text transform="translate(0.00,0) scale(1.072,1)">0</text><text transform="translate(9.70,0) scale(1.072,1)">.</text><text transform="translate(14.55,0) scale(1.072,1)">9</text></g>
<g transform="translate(1453.19,130.00)" font-size="16.27"><text transform="translate(0.00,0) scale(1.072,1)">1</text><text transform="translate(9.65,0) scale(1.072,1)">.</text><text transform="translate(14.47,0) scale(1.072,1)">0</text></g>
<g transform="translate(786.12,759.75)" font-size="17.50"><text transform="translate(0.00,0) scale(0.950,1)">T</text><text transform="translate(9.67,0) scale(1.188,1)">i</text><text transform="translate(14.30,0) scale(1.111,1)">m</text><text transform="translate(30.53,0) scale(1.051,1)">e</text><text transform="translate(46.07,0) scale(1.113,1)">(</text><text transform="translate(52.57,0) scale(0.990,1)">s</text><text transform="translate(61.25,0) scale(1.113,1)">)</text></g>
<g transform="translate(153.75,470.12) rotate(-90)" font-size="17.50"><text transform="translate(0.00,0) scale(0.995,1)">W</text><text transform="translate(16.43,0) scale(1.083,1)">h</text><text transform="translate(26.96,0) scale(1.188,1)">i</text><text transform="translate(31.58,0) scale(1.341,1)">t</text><text transform="translate(38.10,0) scale(1.051,1)">e</text><text transform="translate(48.32,0) scale(1.083,1)">n</text><text transform="translate(58.85,0) scale(1.051,1)">e</text><text transform="translate(69.08,0) scale(1.084,1)">d</text><text transform="translate(84.91,0) scale(0.990,1)">s</text><text transform="translate(93.57,0) scale(1.341,1)">t</text><text transform="translate(100.08,0) scale(1.173,1)">r</text><text transform="translate(106.92,0) scale(1.047,1)">a</text><text transform="translate(117.10,0) scale(1.188,1)">i</text><text transform="translate(121.72,0) scale(1.083,1)">n</text></g>
<g transform="translate(1496.00,506.00) rotate(-90)" font-size="17.50"><text transform="translate(0.00,0) scale(1.013,1)">D</text><text transform="translate(12.79,0) scale(1.051,1)">e</text><text transform="translate(23.00,0) scale(1.341,1)">t</text><text transform="translate(29.51,0) scale(1.051,1)">e</text><text transform="translate(39.73,0) scale(1.045,1)">c</text><text transform="translate(48.86,0) scale(1.341,1)">t</text><text transform="translate(55.37,0) scale(1.188,1)">i</text><text transform="translate(59.98,0) scale(1.045,1)">o</text><text transform="translate(70.14,0) scale(1.083,1)">n</text><text transform="translate(85.94,0) scale(1.084,1)">p</text><text transform="translate(96.48,0) scale(1.173,1)">r</text><text transform="translate(102.94,0) scale(1.045,1)">o</text><text transform="translate(113.09,0) scale(1.084,1)">b</text><text transform="translate(123.64,0) scale(1.047,1)">a</text><text transform="translate(133.81,0) scale(1.084,1)">b</text><text transform="translate(144.35,0) scale(1.188,1)">i</text><text transform="translate(148.96,0) scale(1.188,1)">l</text><text transform="translate(153.58,0) scale(1.188,1)">i</text><text transform="translate(158.19,0) scale(1.341,1)">t</text><text transform="translate(164.70,0) scale(1.124,1)">y</text><text transform="translate(174.53,0) scale(1.152,1)">/</text><text transform="translate(180.12,0) scale(0.984,1)">M</text><text transform="translate(194.45,0) scale(0.895,1)">F</text></g>
<g transform="translate(608.38,87.67)" font-size="17.50"><text transform="translate(0.00,0) scale(0.990,1)">s</text><text transform="translate(8.65,0) scale(1.341,1)">t</text><text transform="translate(15.16,0) scale(1.047,1)">a</text><text transform="translate(25.34,0) scale(1.341,1)">t</text><text transform="translate(31.85,0) scale(0.990,1)">s</text><text transform="translate(45.78,0) scale(1.047,1)">a</text><text transform="translate(55.95,0) scale(1.341,1)">t</text><text transform="translate(67.74,0) scale(1.051,1)">e</text><text transform="translate(77.96,0) scale(1.047,1)">a</text><text transform="translate(88.13,0) scale(1.045,1)">c</text><text transform="translate(97.26,0) scale(1.083,1)">h</text><text transform="translate(113.06,0) scale(1.341,1)">t</text><text transform="translate(119.57,0) scale(1.188,1)">i</text><text transform="translate(124.19,0) scale(1.111,1)">m</text><text transform="translate(140.36,0) scale(1.051,1)">e</text><text transform="translate(150.58,0) scale(0.990,1)">s</text><text transform="translate(159.23,0) scale(1.341,1)">t</text><text transform="translate(165.74,0) scale(1.051,1)">e</text><text transform="translate(175.95,0) scale(1.084,1)">p</text><text transform="translate(191.77,0) scale(1.204,1)">f</text><text transform="translate(197.62,0) scale(1.045,1)">o</text><text transform="translate(207.78,0) scale(1.173,1)">r</text><text transform="translate(219.88,0) scale(1.341,1)">t</text><text transform="translate(226.39,0) scale(1.051,1)">e</text><text transform="translate(236.61,0) scale(0.990,1)">s</text><text transform="translate(245.26,0) scale(1.341,1)">t</text><text transform="translate(257.05,0) scale(1.084,1)">d</text><text transform="translate(267.59,0) scale(1.047,1)">a</text><text transform="translate(277.76,0) scale(1.341,1)">t</text><text transform="translate(284.27,0) scale(1.047,1)">a</text><text transform="translate(299.73,0) scale(1.087,1)">1</text><text transform="translate(310.29,0) scale(1.087,1)">5</text><text transform="translate(320.86,0) scale(1.087,1)">2</text><text transform="translate(336.70,0) scale(1.334,1)">[</text><text transform="translate(343.18,0) scale(0.990,1)">s</text><text transform="translate(351.83,0) scale(1.188,1)">i</text><text transform="translate(356.44,0) scale(1.084,1)">g</text><text transform="translate(366.98,0) scale(1.083,1)">n</text><text transform="translate(377.51,0) scale(1.047,1)">a</text><text transform="translate(387.68,0) scale(1.188,1)">l</text><text transform="translate(392.29,0) scale(1.363,1)">=</text><text transform="translate(406.21,0) scale(1.087,1)">0</text><text transform="translate(416.77,0) scale(1.334,1)">]</text></g>
<rect x="320.3" y="648.3" width="174.5" height="72.1" rx="3.06" fill="#EAEAF2" fill-opacity="0.8" stroke="#CCCCCC" stroke-opacity="0.8" stroke-width="1.389"/>
<path d="M326.34 660.64H356.90" stroke="#4C72B0" stroke-opacity="0.5" stroke-width="2.083" stroke-linecap="square" fill="none"/>
<path d="M326.34 683.28H356.90" stroke="#DD8452" stroke-opacity="0.5" stroke-width="2.083" stroke-linecap="square" fill="none"/>
<path d="M326.34 705.92H356.90" stroke="#55A868" stroke-opacity="1" stroke-width="2.083" stroke-linecap="square" fill="none"/>
<g transform="translate(369.12,665.99)" font-size="16.04"><text transform="translate(0.00,0) scale(0.991,1)">s</text><text transform="translate(7.97,0) scale(1.189,1)">i</text><text transform="translate(12.22,0) scale(1.085,1)">g</text><text transform="translate(21.93,0) scale(1.083,1)">n</text><text transform="translate(31.63,0) scale(1.047,1)">a</text><text transform="translate(41.00,0) scale(1.189,1)">l</text><text transform="translate(45.25,0) scale(1.364,1)">+</text><text transform="translate(62.94,0) scale(1.083,1)">n</text><text transform="translate(72.63,0) scale(1.046,1)">o</text><text transform="translate(81.99,0) scale(1.189,1)">i</text><text transform="translate(86.24,0) scale(0.991,1)">s</text><text transform="translate(94.21,0) scale(1.052,1)">e</text></g>
<g transform="translate(369.12,688.63)" font-size="16.04"><text transform="translate(0.00,0) scale(0.991,1)">s</text><text transform="translate(7.96,0) scale(1.189,1)">i</text><text transform="translate(12.21,0) scale(1.085,1)">g</text><text transform="translate(21.90,0) scale(1.083,1)">n</text><text transform="translate(31.59,0) scale(1.047,1)">a</text><text transform="translate(40.95,0) scale(1.189,1)">l</text><text transform="translate(50.05,0) scale(1.046,1)">o</text><text transform="translate(59.40,0) scale(1.083,1)">n</text><text transform="translate(69.09,0) scale(1.189,1)">l</text><text transform="translate(73.33,0) scale(1.125,1)">y</text></g>
<g transform="translate(369.12,711.27)" font-size="16.04"><text transform="translate(0.00,0) scale(0.991,1)">s</text><text transform="translate(7.98,0) scale(1.189,1)">i</text><text transform="translate(12.24,0) scale(1.085,1)">g</text><text transform="translate(21.97,0) scale(1.083,1)">n</text><text transform="translate(31.68,0) scale(1.047,1)">a</text><text transform="translate(41.07,0) scale(1.189,1)">l</text><text transform="translate(50.20,0) scale(0.991,1)">s</text><text transform="translate(58.18,0) scale(1.342,1)">t</text><text transform="translate(64.19,0) scale(1.047,1)">a</text><text transform="translate(73.58,0) scale(1.342,1)">t</text><text transform="translate(79.59,0) scale(1.189,1)">i</text><text transform="translate(83.84,0) scale(0.991,1)">s</text><text transform="translate(91.83,0) scale(1.342,1)">t</text><text transform="translate(97.83,0) scale(1.189,1)">i</text><text transform="translate(102.09,0) scale(1.045,1)">c</text><text transform="translate(110.52,0) scale(0.991,1)">s</text></g>
<text transform="translate(227.56,123.93) scale(0.906,1)" font-size="21.88">S</text><text transform="translate(240.78,123.93) scale(0.987,1)" font-size="21.88">N</text><text transform="translate(256.36,123.93) scale(0.916,1)" font-size="21.88">R</text><text transform="translate(270.84,123.93) scale(0.856,1)" font-size="21.88">_</text><text transform="translate(281.26,123.93) scale(1.048,1)" font-size="21.88">o</text><text transform="translate(294.00,123.93) scale(1.087,1)" font-size="21.88">p</text><text transform="translate(307.23,123.93) scale(1.344,1)" font-size="21.88">t</text><text transform="translate(315.40,123.93) scale(1.366,1)" font-size="21.88">=</text><text transform="translate(332.85,123.93) scale(1.090,1)" font-size="21.88">0</text><text transform="translate(346.11,123.93) scale(1.090,1)" font-size="21.88">.</text><text transform="translate(352.73,123.93) scale(1.090,1)" font-size="21.88">0</text>
<text transform="translate(558.23,123.93) scale(0.906,1)" font-size="21.88" font-style="italic">S</text><text transform="translate(571.46,123.93) scale(0.987,1)" font-size="21.88" font-style="italic">N</text><text transform="translate(587.04,123.93) scale(0.916,1)" font-size="21.88" font-style="italic">R</text><text transform="translate(601.52,127.34) scale(0.986,1)" font-size="15.31" font-style="italic">M</text><text transform="translate(614.67,123.93) scale(0.897,1)" font-size="21.88" font-style="italic">F</text><text transform="translate(626.65,123.93) scale(1.366,1)" font-size="21.88">=</text><text transform="translate(644.11,123.93) scale(1.337,1)" font-size="21.88">[</text><text transform="translate(652.24,123.93) scale(1.090,1)" font-size="21.88">4</text><text transform="translate(665.49,123.93) scale(1.090,1)" font-size="21.88">.</text><text transform="translate(672.11,123.93) scale(1.090,1)" font-size="21.88">0</text><text transform="translate(685.37,123.93) scale(1.090,1)" font-size="21.88">4</text><text transform="translate(698.62,123.93) scale(1.337,1)" font-size="21.88">]</text>
<text transform="translate(971.58,123.77) scale(0.906,1)" font-size="21.88" font-style="italic">S</text><text transform="translate(984.80,123.77) scale(1.366,1)" font-size="21.88">=</text><text transform="translate(1002.26,123.77) scale(1.090,1)" font-size="21.88">0</text><text transform="translate(1015.51,123.77) scale(1.090,1)" font-size="21.88">.</text><text transform="translate(1022.13,123.77) scale(1.090,1)" font-size="21.88">0</text><text transform="translate(1035.39,123.77) scale(1.090,1)" font-size="21.88">2</text>
<text transform="translate(1109.36,123.77) scale(0.986,1)" font-size="21.88" font-style="italic">M</text><text transform="translate(1127.33,127.19) scale(1.047,1)" font-size="15.31" font-style="italic">c</text><text transform="translate(1135.92,123.77) scale(1.366,1)" font-size="21.88">=</text><text transform="translate(1153.38,123.77) scale(1.090,1)" font-size="21.88">1</text><text transform="translate(1166.63,123.77) scale(1.090,1)" font-size="21.88">9</text><text transform="translate(1179.89,123.77) scale(1.090,1)" font-size="21.88">.</text><text transform="translate(1186.51,123.77) scale(1.090,1)" font-size="21.88">5</text><text transform="translate(1199.76,123.77) scale(1.090,1)" font-size="21.88">8</text>
</svg></body></html>
